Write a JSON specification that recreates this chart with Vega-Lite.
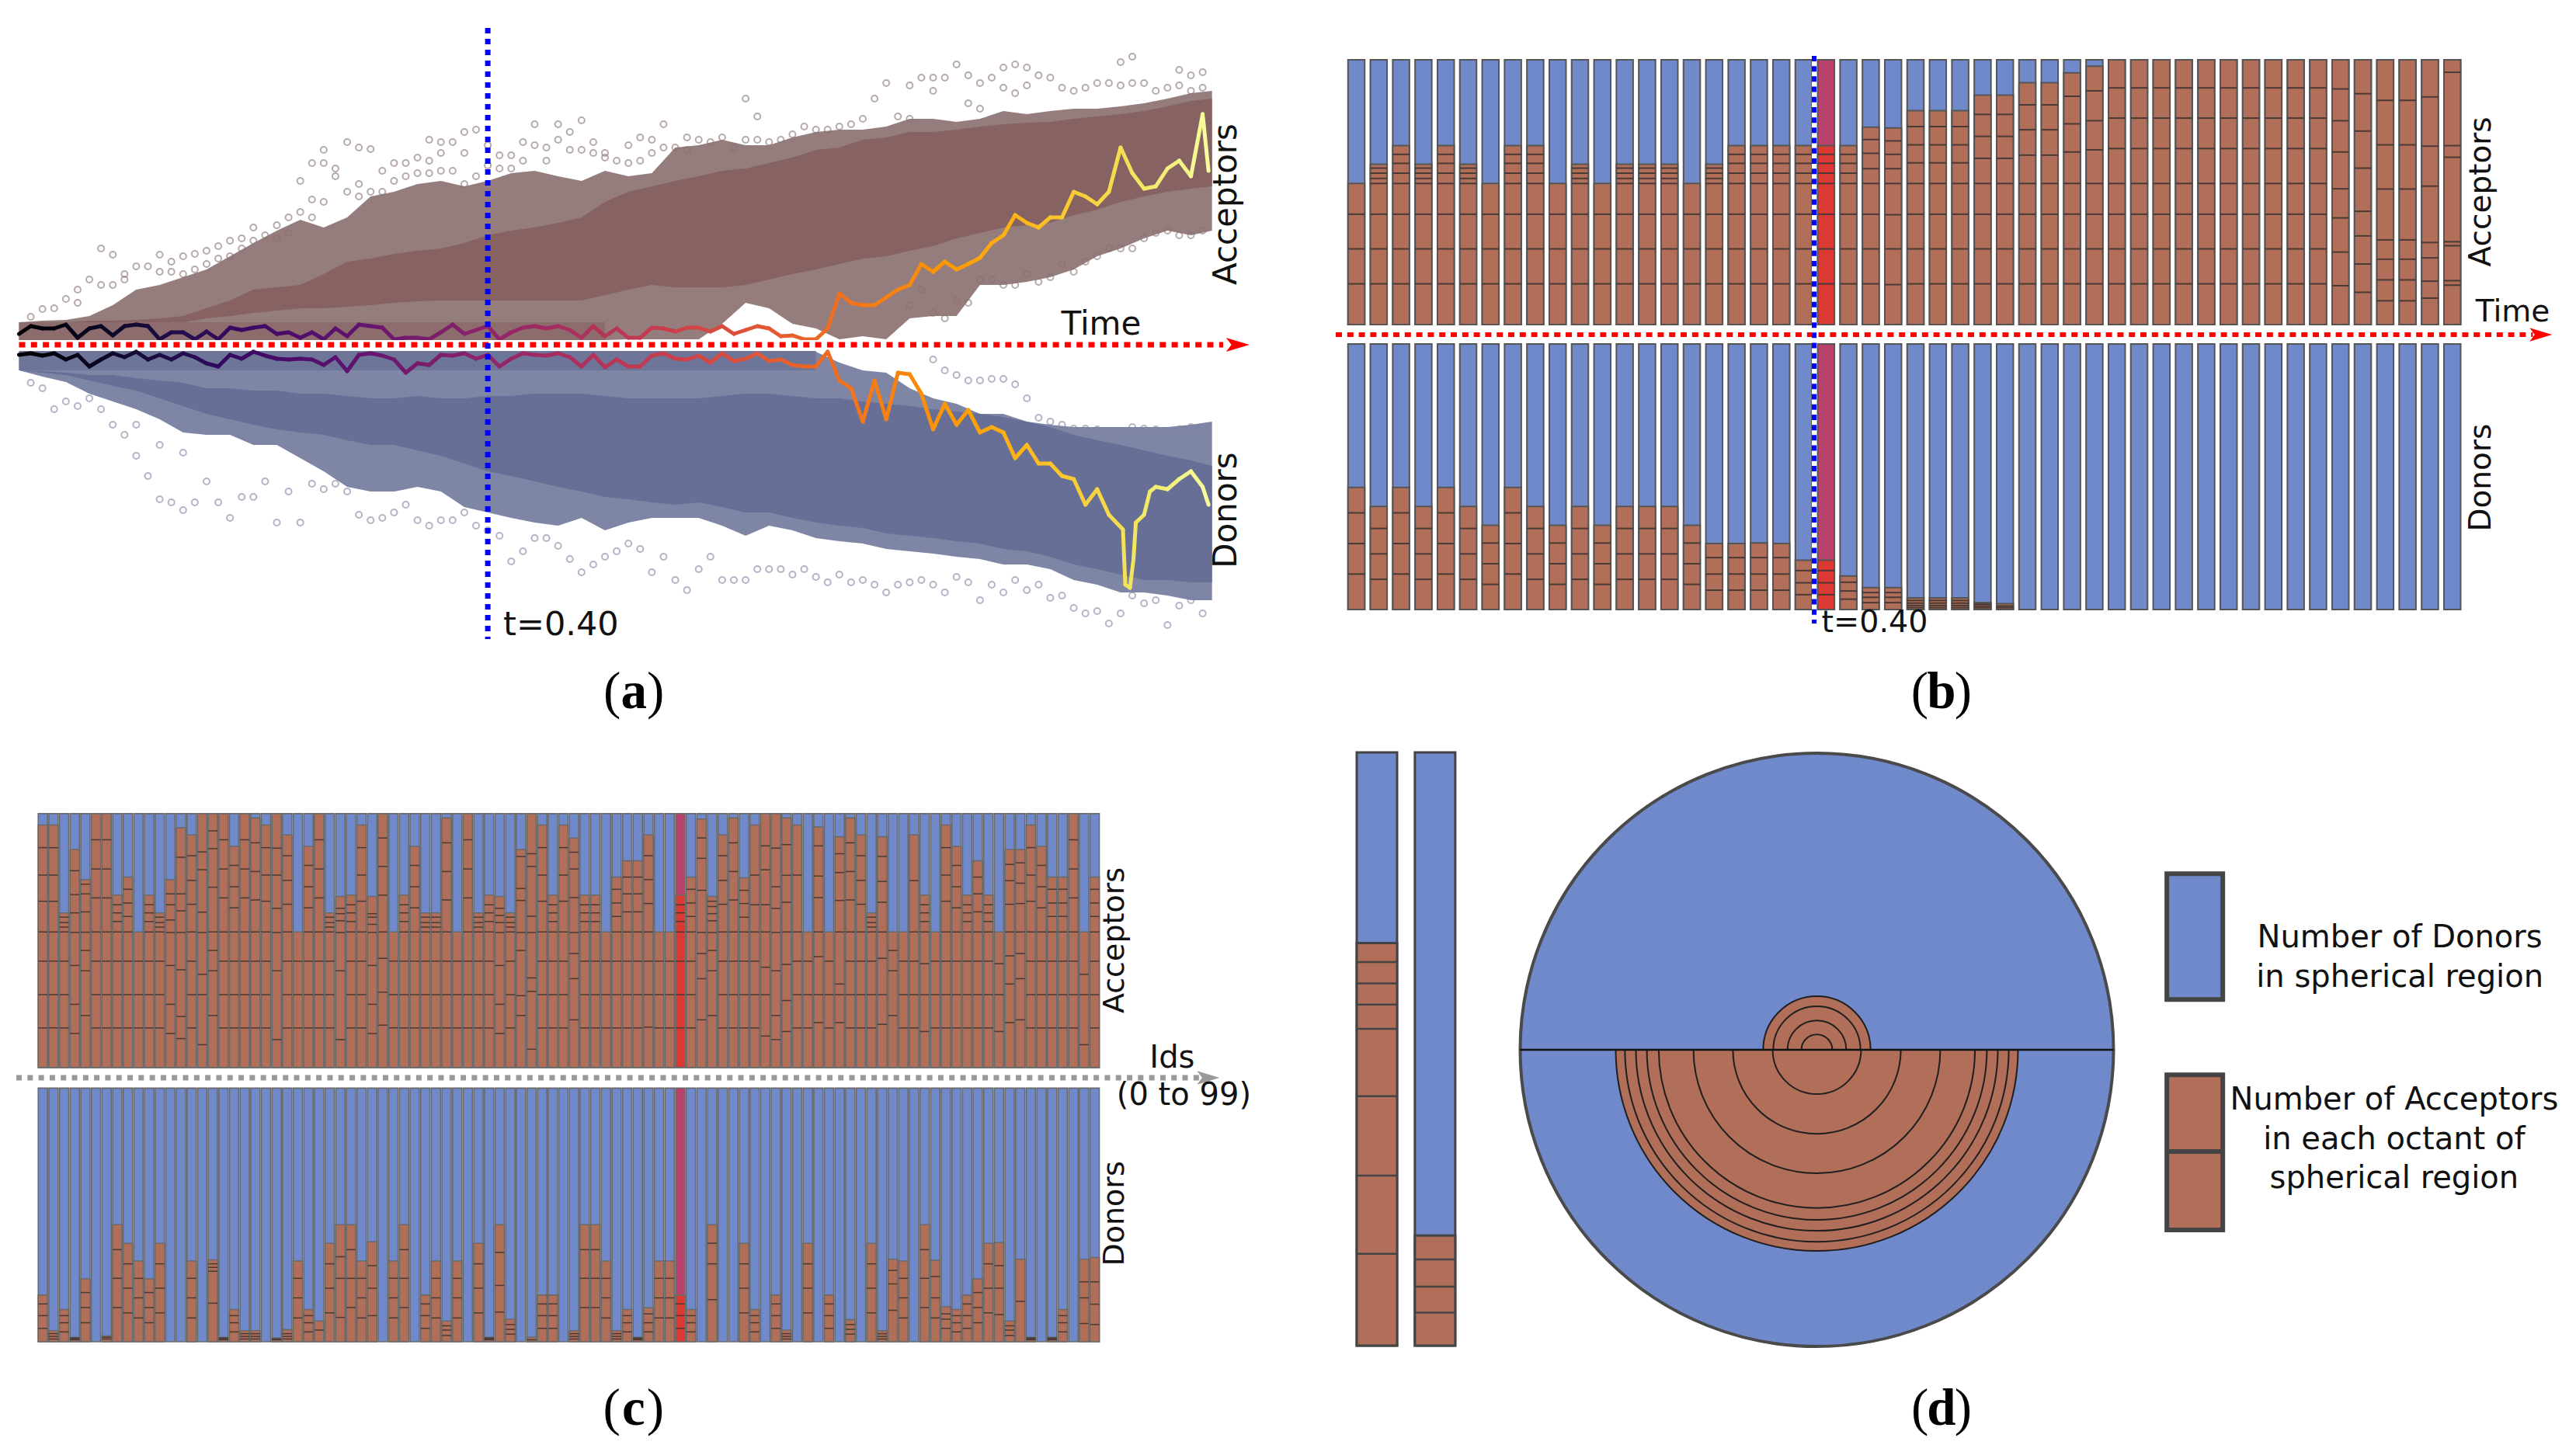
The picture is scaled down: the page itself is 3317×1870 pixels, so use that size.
{"$schema":"https://vega.github.io/schema/vega-lite/v6.json","padding":0,"background":"white","spacing":0,"config":{"view":{"stroke":null},"concat":{"spacing":0}},
"datasets":{
"env":[
{"g":"A","t":0,"mu":2.9,"ml":0.6,"cu":2.9,"cl":2.9},{"g":"A","t":0.02,"mu":3.1,"ml":0.6,"cu":2.9,"cl":2.9},{"g":"A","t":0.04,"mu":3.2,"ml":0.6,"cu":2.9,"cl":2.9},{"g":"A","t":0.06,"mu":3.7,"ml":0.6,"cu":3.1,"cl":2.9},{"g":"A","t":0.08,"mu":5.1,"ml":0.6,"cu":3.1,"cl":2.9},{"g":"A","t":0.1,"mu":7.1,"ml":0.6,"cu":3.2,"cl":2.9},{"g":"A","t":0.12,"mu":7.7,"ml":0.6,"cu":3.4,"cl":2.9},{"g":"A","t":0.14,"mu":8.7,"ml":0.6,"cu":3.7,"cl":2.9},{"g":"A","t":0.16,"mu":9.7,"ml":0.6,"cu":4.7,"cl":3.4},{"g":"A","t":0.18,"mu":11.4,"ml":0.6,"cu":5.7,"cl":3.7},{"g":"A","t":0.2,"mu":13.1,"ml":0.6,"cu":7.1,"cl":4.1},{"g":"A","t":0.22,"mu":14.7,"ml":0.6,"cu":7.4,"cl":4.4},{"g":"A","t":0.24,"mu":16.1,"ml":0.6,"cu":7.7,"cl":4.7},{"g":"A","t":0.26,"mu":15.1,"ml":0.6,"cu":9.1,"cl":4.7},{"g":"A","t":0.28,"mu":16.4,"ml":0.6,"cu":10.7,"cl":4.9},{"g":"A","t":0.3,"mu":19.1,"ml":0.6,"cu":11.1,"cl":5.1},{"g":"A","t":0.32,"mu":19.7,"ml":0.6,"cu":11.7,"cl":5.4},{"g":"A","t":0.34,"mu":20.7,"ml":0.6,"cu":12.1,"cl":5.6},{"g":"A","t":0.36,"mu":21.1,"ml":0.6,"cu":12.4,"cl":5.7},{"g":"A","t":0.38,"mu":20.4,"ml":0.6,"cu":13.1,"cl":5.7},{"g":"A","t":0.4,"mu":21.1,"ml":0.6,"cu":14.1,"cl":5.7},{"g":"A","t":0.42,"mu":22.1,"ml":0.6,"cu":14.7,"cl":5.7},{"g":"A","t":0.44,"mu":22.4,"ml":0.6,"cu":15.1,"cl":5.7},{"g":"A","t":0.46,"mu":21.7,"ml":0.6,"cu":15.7,"cl":5.7},{"g":"A","t":0.48,"mu":21.1,"ml":0.6,"cu":16.4,"cl":5.7},{"g":"A","t":0.5,"mu":22.4,"ml":0.6,"cu":18.4,"cl":6.4},{"g":"A","t":0.52,"mu":21.7,"ml":0.7,"cu":19.7,"cl":7.1},{"g":"A","t":0.54,"mu":22.1,"ml":0.7,"cu":20.4,"cl":7.7},{"g":"A","t":0.56,"mu":25.4,"ml":0.7,"cu":21.1,"cl":7.4},{"g":"A","t":0.58,"mu":25.7,"ml":0.7,"cu":21.7,"cl":7.4},{"g":"A","t":0.6,"mu":26.4,"ml":2.7,"cu":22.4,"cl":7.4},{"g":"A","t":0.62,"mu":25.7,"ml":5.4,"cu":22.7,"cl":7.7},{"g":"A","t":0.64,"mu":25.7,"ml":4.7,"cu":23.4,"cl":8.4},{"g":"A","t":0.66,"mu":26.7,"ml":2.7,"cu":24.1,"cl":9.1},{"g":"A","t":0.68,"mu":27.4,"ml":2.1,"cu":25.1,"cl":9.7},{"g":"A","t":0.7,"mu":27.7,"ml":0.7,"cu":25.4,"cl":10.4},{"g":"A","t":0.72,"mu":27.7,"ml":1.1,"cu":26.4,"cl":11.1},{"g":"A","t":0.74,"mu":28.1,"ml":0.7,"cu":26.7,"cl":11.4},{"g":"A","t":0.76,"mu":29.1,"ml":3.4,"cu":27.4,"cl":12.1},{"g":"A","t":0.78,"mu":29.1,"ml":3.7,"cu":27.4,"cl":12.7},{"g":"A","t":0.8,"mu":28.7,"ml":3.7,"cu":27.7,"cl":13.7},{"g":"A","t":0.82,"mu":29.1,"ml":7.7,"cu":28.1,"cl":14.4},{"g":"A","t":0.84,"mu":30.1,"ml":7.7,"cu":28.4,"cl":15.1},{"g":"A","t":0.86,"mu":29.7,"ml":8.1,"cu":28.6,"cl":15.4},{"g":"A","t":0.88,"mu":30.1,"ml":8.7,"cu":28.7,"cl":15.7},{"g":"A","t":0.9,"mu":30.4,"ml":9.7,"cu":29.1,"cl":16.7},{"g":"A","t":0.92,"mu":30.4,"ml":11.4,"cu":29.4,"cl":17.4},{"g":"A","t":0.94,"mu":30.7,"ml":12.4,"cu":29.7,"cl":18.4},{"g":"A","t":0.96,"mu":31.1,"ml":13.7,"cu":30.1,"cl":19.1},{"g":"A","t":0.98,"mu":31.7,"ml":14.7,"cu":30.7,"cl":19.7},{"g":"A","t":1,"mu":32.4,"ml":14.1,"cu":31.4,"cl":20.1},{"g":"A","t":1.018,"mu":32.7,"ml":14.7,"cu":31.7,"cl":20.4},
{"g":"D","t":0,"mu":-0.9,"ml":-3.3,"cu":-3.3,"cl":-3.3},{"g":"D","t":0.02,"mu":-0.9,"ml":-4.1,"cu":-3.4,"cl":-3.6},{"g":"D","t":0.04,"mu":-0.9,"ml":-4.8,"cu":-3.6,"cl":-3.9},{"g":"D","t":0.06,"mu":-0.9,"ml":-6.3,"cu":-3.9,"cl":-4.6},{"g":"D","t":0.08,"mu":-0.9,"ml":-7.3,"cu":-3.9,"cl":-5.3},{"g":"D","t":0.1,"mu":-0.9,"ml":-8.3,"cu":-4.3,"cl":-5.9},{"g":"D","t":0.12,"mu":-0.9,"ml":-9.6,"cu":-4.6,"cl":-6.9},{"g":"D","t":0.14,"mu":-0.9,"ml":-11.3,"cu":-4.9,"cl":-7.9},{"g":"D","t":0.16,"mu":-0.9,"ml":-11.6,"cu":-5.6,"cl":-8.9},{"g":"D","t":0.18,"mu":-0.9,"ml":-11.6,"cu":-5.6,"cl":-9.6},{"g":"D","t":0.2,"mu":-0.9,"ml":-12.9,"cu":-5.9,"cl":-10.3},{"g":"D","t":0.22,"mu":-0.9,"ml":-12.9,"cu":-5.9,"cl":-10.9},{"g":"D","t":0.24,"mu":-0.9,"ml":-14.6,"cu":-6.3,"cl":-11.3},{"g":"D","t":0.26,"mu":-0.9,"ml":-16.3,"cu":-6.3,"cl":-11.6},{"g":"D","t":0.28,"mu":-0.9,"ml":-18.3,"cu":-6.6,"cl":-12.3},{"g":"D","t":0.3,"mu":-0.9,"ml":-18.9,"cu":-6.9,"cl":-12.9},{"g":"D","t":0.32,"mu":-0.9,"ml":-18.9,"cu":-6.9,"cl":-12.9},{"g":"D","t":0.34,"mu":-0.9,"ml":-18.3,"cu":-6.6,"cl":-13.6},{"g":"D","t":0.36,"mu":-0.9,"ml":-18.9,"cu":-6.9,"cl":-14.3},{"g":"D","t":0.38,"mu":-0.9,"ml":-20.9,"cu":-6.9,"cl":-15.3},{"g":"D","t":0.4,"mu":-0.9,"ml":-21.6,"cu":-6.6,"cl":-16.3},{"g":"D","t":0.42,"mu":-0.9,"ml":-22.3,"cu":-6.6,"cl":-16.9},{"g":"D","t":0.44,"mu":-0.9,"ml":-22.9,"cu":-6.3,"cl":-17.6},{"g":"D","t":0.46,"mu":-0.9,"ml":-23.3,"cu":-6.3,"cl":-18.3},{"g":"D","t":0.48,"mu":-0.9,"ml":-22.3,"cu":-6.3,"cl":-18.9},{"g":"D","t":0.5,"mu":-0.9,"ml":-23.9,"cu":-6.6,"cl":-19.6},{"g":"D","t":0.52,"mu":-0.9,"ml":-22.9,"cu":-6.9,"cl":-19.9},{"g":"D","t":0.54,"mu":-0.9,"ml":-22.3,"cu":-6.9,"cl":-20.3},{"g":"D","t":0.56,"mu":-0.9,"ml":-22.3,"cu":-6.9,"cl":-20.6},{"g":"D","t":0.58,"mu":-0.9,"ml":-22.3,"cu":-6.9,"cl":-20.3},{"g":"D","t":0.6,"mu":-0.9,"ml":-23.3,"cu":-6.6,"cl":-20.9},{"g":"D","t":0.62,"mu":-0.9,"ml":-24.6,"cu":-6.3,"cl":-21.6},{"g":"D","t":0.64,"mu":-0.9,"ml":-23.3,"cu":-6.3,"cl":-21.6},{"g":"D","t":0.66,"mu":-0.9,"ml":-23.9,"cu":-6.6,"cl":-22.3},{"g":"D","t":0.68,"mu":-0.9,"ml":-24.9,"cu":-6.9,"cl":-22.9},{"g":"D","t":0.7,"mu":-2.3,"ml":-25.3,"cu":-6.9,"cl":-23.3},{"g":"D","t":0.72,"mu":-3.3,"ml":-25.6,"cu":-7.3,"cl":-23.6},{"g":"D","t":0.74,"mu":-3.6,"ml":-26.3,"cu":-7.6,"cl":-24.3},{"g":"D","t":0.76,"mu":-5.6,"ml":-26.6,"cu":-7.9,"cl":-24.6},{"g":"D","t":0.78,"mu":-6.9,"ml":-26.9,"cu":-8.3,"cl":-24.9},{"g":"D","t":0.8,"mu":-7.6,"ml":-27.3,"cu":-8.6,"cl":-25.3},{"g":"D","t":0.82,"mu":-8.9,"ml":-27.6,"cu":-8.9,"cl":-25.6},{"g":"D","t":0.84,"mu":-8.9,"ml":-28.3,"cu":-9.3,"cl":-26.3},{"g":"D","t":0.86,"mu":-9.9,"ml":-28.3,"cu":-9.9,"cl":-26.6},{"g":"D","t":0.88,"mu":-10.3,"ml":-28.9,"cu":-10.6,"cl":-27.3},{"g":"D","t":0.9,"mu":-10.6,"ml":-30.3,"cu":-11.6,"cl":-28.3},{"g":"D","t":0.92,"mu":-10.6,"ml":-30.9,"cu":-12.3,"cl":-28.9},{"g":"D","t":0.94,"mu":-10.6,"ml":-31.9,"cu":-12.9,"cl":-29.6},{"g":"D","t":0.96,"mu":-10.6,"ml":-31.9,"cu":-13.6,"cl":-30.3},{"g":"D","t":0.98,"mu":-10.6,"ml":-32.3,"cu":-14.3,"cl":-30.3},{"g":"D","t":1,"mu":-10.3,"ml":-32.9,"cu":-14.9,"cl":-30.6},{"g":"D","t":1.018,"mu":-9.9,"ml":-32.9,"cu":-15.6,"cl":-30.6}
],
"aPts":[
{"g":"A","t":0.01,"r":[3.6]},{"g":"A","t":0.02,"r":[4.6]},{"g":"A","t":0.03,"r":[4.7]},{"g":"A","t":0.04,"r":[5.9]},{"g":"A","t":0.05,"r":[7.1,5.4]},{"g":"A","t":0.06,"r":[8.4]},{"g":"A","t":0.07,"r":[12.4,7.7]},{"g":"A","t":0.08,"r":[11.6,7.7]},{"g":"A","t":0.09,"r":[8.4,9.1]},{"g":"A","t":0.1,"r":[10.1]},{"g":"A","t":0.11,"r":[10.1]},{"g":"A","t":0.12,"r":[11.6,9.4]},{"g":"A","t":0.13,"r":[10.7,9.4]},{"g":"A","t":0.14,"r":[11.4,9.1]},{"g":"A","t":0.15,"r":[11.7,9.7]},{"g":"A","t":0.16,"r":[12.1,10.4]},{"g":"A","t":0.17,"r":[12.7,11.1]},{"g":"A","t":0.18,"r":[13.4,11.4]},{"g":"A","t":0.19,"r":[13.7,12.4]},{"g":"A","t":0.2,"r":[15.1,13.4]},{"g":"A","t":0.21,"r":[14.1]},{"g":"A","t":0.22,"r":[15.4,13.7]},{"g":"A","t":0.23,"r":[16.4,14.4]},{"g":"A","t":0.24,"r":[21.1,17.1]},{"g":"A","t":0.25,"r":[23.4,18.7,16.4]},{"g":"A","t":0.26,"r":[25.1,23.4,18.4]},{"g":"A","t":0.27,"r":[21.7,22.7]},{"g":"A","t":0.28,"r":[26.1,19.7]},{"g":"A","t":0.29,"r":[25.4,20.7,19.1]},{"g":"A","t":0.3,"r":[25.2,19.7]},{"g":"A","t":0.31,"r":[22.4,19.7]},{"g":"A","t":0.32,"r":[23.4,21.1]},{"g":"A","t":0.33,"r":[23.4,21.7]},{"g":"A","t":0.34,"r":[24.1,22.1]},{"g":"A","t":0.35,"r":[26.4,23.7,22.1]},{"g":"A","t":0.36,"r":[26.1,24.7,22.4]},{"g":"A","t":0.37,"r":[26.1,22.4]},{"g":"A","t":0.38,"r":[27.4,24.7,20.7]},{"g":"A","t":0.39,"r":[27.7,21.7]},{"g":"A","t":0.4,"r":[25.7,23.1]},{"g":"A","t":0.41,"r":[24.4,22.7]},{"g":"A","t":0.42,"r":[24.4,22.7]},{"g":"A","t":0.43,"r":[26.1,23.7]},{"g":"A","t":0.44,"r":[28.4,25.7]},{"g":"A","t":0.45,"r":[25.4,23.7]},{"g":"A","t":0.46,"r":[28.4,26.4]},{"g":"A","t":0.47,"r":[27.4,25.1]},{"g":"A","t":0.48,"r":[28.9,25.1]},{"g":"A","t":0.49,"r":[26.1,24.7]},{"g":"A","t":0.5,"r":[24.7,24.1]},{"g":"A","t":0.51,"r":[23.7]},{"g":"A","t":0.52,"r":[25.7,23.4]},{"g":"A","t":0.53,"r":[26.7,23.7]},{"g":"A","t":0.54,"r":[26.4,24.7]},{"g":"A","t":0.55,"r":[28.4,25.4]},{"g":"A","t":0.56,"r":[25.4]},{"g":"A","t":0.57,"r":[26.7,25.1]},{"g":"A","t":0.58,"r":[26.4]},{"g":"A","t":0.59,"r":[26.1]},{"g":"A","t":0.6,"r":[26.7]},{"g":"A","t":0.61,"r":[25.4]},{"g":"A","t":0.62,"r":[31.7,26.4]},{"g":"A","t":0.63,"r":[29.4,26.4]},{"g":"A","t":0.64,"r":[26.1]},{"g":"A","t":0.65,"r":[26.4]},{"g":"A","t":0.66,"r":[27.1]},{"g":"A","t":0.67,"r":[28.1]},{"g":"A","t":0.68,"r":[27.7]},{"g":"A","t":0.69,"r":[27.7]},{"g":"A","t":0.7,"r":[28.1]},{"g":"A","t":0.71,"r":[28.4]},{"g":"A","t":0.72,"r":[29.1]},{"g":"A","t":0.73,"r":[31.7]},{"g":"A","t":0.74,"r":[33.7]},{"g":"A","t":0.75,"r":[29.4]},{"g":"A","t":0.76,"r":[33.4,29.1,5.1]},{"g":"A","t":0.77,"r":[34.4,7.1]},{"g":"A","t":0.78,"r":[34.4,32.7,4.1]},{"g":"A","t":0.79,"r":[34.4,3.4]},{"g":"A","t":0.8,"r":[36.1,5.7]},{"g":"A","t":0.81,"r":[34.7,31.1,5.4]},{"g":"A","t":0.82,"r":[33.7,30.4,8.4]},{"g":"A","t":0.83,"r":[34.4,8.4]},{"g":"A","t":0.84,"r":[35.7,33.1,7.7]},{"g":"A","t":0.85,"r":[36.1,32.4,7.7]},{"g":"A","t":0.86,"r":[35.7,33.4,9.1]},{"g":"A","t":0.87,"r":[34.7,8.1]},{"g":"A","t":0.88,"r":[34.4,8.7]},{"g":"A","t":0.89,"r":[33.1,10.4]},{"g":"A","t":0.9,"r":[32.7,9.4]},{"g":"A","t":0.91,"r":[33.1,10.7]},{"g":"A","t":0.92,"r":[33.7,11.4]},{"g":"A","t":0.93,"r":[33.7,12.4]},{"g":"A","t":0.94,"r":[36.4,33.4,12.4]},{"g":"A","t":0.95,"r":[37.1,33.7,12.4]},{"g":"A","t":0.96,"r":[33.7,13.7]},{"g":"A","t":0.97,"r":[32.7,14.4]},{"g":"A","t":0.98,"r":[33.1,14.7]},{"g":"A","t":0.99,"r":[35.4,33.4,14.1]},{"g":"A","t":1,"r":[34.7,32.7,14.1]},{"g":"A","t":1.01,"r":[35.1,33.1,14.7]},
{"g":"D","t":0.01,"r":[-4.9]},{"g":"D","t":0.02,"r":[-5.6]},{"g":"D","t":0.03,"r":[-8.3]},{"g":"D","t":0.04,"r":[-7.3]},{"g":"D","t":0.05,"r":[-7.9]},{"g":"D","t":0.06,"r":[-6.9]},{"g":"D","t":0.07,"r":[-8.3]},{"g":"D","t":0.08,"r":[-10.3]},{"g":"D","t":0.09,"r":[-11.6]},{"g":"D","t":0.1,"r":[-14.3,-10.3]},{"g":"D","t":0.11,"r":[-16.9]},{"g":"D","t":0.12,"r":[-19.9,-12.9]},{"g":"D","t":0.13,"r":[-20.3]},{"g":"D","t":0.14,"r":[-21.3,-13.9]},{"g":"D","t":0.15,"r":[-20.3]},{"g":"D","t":0.16,"r":[-17.6]},{"g":"D","t":0.17,"r":[-20.3]},{"g":"D","t":0.18,"r":[-22.3]},{"g":"D","t":0.19,"r":[-19.6]},{"g":"D","t":0.2,"r":[-19.6]},{"g":"D","t":0.21,"r":[-17.6]},{"g":"D","t":0.22,"r":[-22.9]},{"g":"D","t":0.23,"r":[-18.9]},{"g":"D","t":0.24,"r":[-22.9]},{"g":"D","t":0.25,"r":[-17.9]},{"g":"D","t":0.26,"r":[-18.6]},{"g":"D","t":0.27,"r":[-17.9]},{"g":"D","t":0.28,"r":[-18.9]},{"g":"D","t":0.29,"r":[-21.9]},{"g":"D","t":0.3,"r":[-22.6]},{"g":"D","t":0.31,"r":[-22.3]},{"g":"D","t":0.32,"r":[-21.6]},{"g":"D","t":0.33,"r":[-20.6]},{"g":"D","t":0.34,"r":[-22.6]},{"g":"D","t":0.35,"r":[-23.3]},{"g":"D","t":0.36,"r":[-22.6]},{"g":"D","t":0.37,"r":[-22.6]},{"g":"D","t":0.38,"r":[-21.6]},{"g":"D","t":0.39,"r":[-23.3]},{"g":"D","t":0.4,"r":[-23.9]},{"g":"D","t":0.41,"r":[-24.6]},{"g":"D","t":0.42,"r":[-27.9]},{"g":"D","t":0.43,"r":[-26.6]},{"g":"D","t":0.44,"r":[-24.9]},{"g":"D","t":0.45,"r":[-24.9]},{"g":"D","t":0.46,"r":[-25.9]},{"g":"D","t":0.47,"r":[-27.6]},{"g":"D","t":0.48,"r":[-29.3]},{"g":"D","t":0.49,"r":[-28.3]},{"g":"D","t":0.5,"r":[-27.3]},{"g":"D","t":0.51,"r":[-26.6]},{"g":"D","t":0.52,"r":[-25.6]},{"g":"D","t":0.53,"r":[-26.3]},{"g":"D","t":0.54,"r":[-29.3]},{"g":"D","t":0.55,"r":[-27.3]},{"g":"D","t":0.56,"r":[-30.3]},{"g":"D","t":0.57,"r":[-31.6]},{"g":"D","t":0.58,"r":[-28.9]},{"g":"D","t":0.59,"r":[-27.3]},{"g":"D","t":0.6,"r":[-30.3]},{"g":"D","t":0.61,"r":[-30.3]},{"g":"D","t":0.62,"r":[-30.3]},{"g":"D","t":0.63,"r":[-28.9]},{"g":"D","t":0.64,"r":[-28.9]},{"g":"D","t":0.65,"r":[-28.9]},{"g":"D","t":0.66,"r":[-29.6]},{"g":"D","t":0.67,"r":[-28.9]},{"g":"D","t":0.68,"r":[-29.9]},{"g":"D","t":0.69,"r":[-30.6]},{"g":"D","t":0.7,"r":[-29.6]},{"g":"D","t":0.71,"r":[-30.6]},{"g":"D","t":0.72,"r":[-30.3]},{"g":"D","t":0.73,"r":[-30.9]},{"g":"D","t":0.74,"r":[-31.9]},{"g":"D","t":0.75,"r":[-30.9]},{"g":"D","t":0.76,"r":[-30.6]},{"g":"D","t":0.77,"r":[-30.3]},{"g":"D","t":0.78,"r":[-30.9,-1.9]},{"g":"D","t":0.79,"r":[-31.9,-3.3]},{"g":"D","t":0.8,"r":[-29.9,-3.9]},{"g":"D","t":0.81,"r":[-30.6,-4.6]},{"g":"D","t":0.82,"r":[-32.9,-4.6]},{"g":"D","t":0.83,"r":[-30.9,-4.4]},{"g":"D","t":0.84,"r":[-31.9,-4.4]},{"g":"D","t":0.85,"r":[-30.3,-5.1]},{"g":"D","t":0.86,"r":[-31.6,-6.9]},{"g":"D","t":0.87,"r":[-30.9,-9.4]},{"g":"D","t":0.88,"r":[-32.6,-9.9]},{"g":"D","t":0.89,"r":[-32.3,-10.3]},{"g":"D","t":0.9,"r":[-33.9,-10.8]},{"g":"D","t":0.91,"r":[-34.6,-10.8]},{"g":"D","t":0.92,"r":[-34.3,-10.9]},{"g":"D","t":0.93,"r":[-35.9,-11.6]},{"g":"D","t":0.94,"r":[-34.6,-11.3]},{"g":"D","t":0.95,"r":[-32.3,-10.6]},{"g":"D","t":0.96,"r":[-33.3,-10.8]},{"g":"D","t":0.97,"r":[-32.9,-10.9]},{"g":"D","t":0.98,"r":[-36.1,-11.3]},{"g":"D","t":0.99,"r":[-33.6,-10.9]},{"g":"D","t":1,"r":[-32.9,-10.6]},{"g":"D","t":1.01,"r":[-34.6,-10.6]}
],
"traj":[
{"g":"A","t":0,"v":1.4},{"g":"A","t":0.01,"v":2.4},{"g":"A","t":0.02,"v":2.1},{"g":"A","t":0.03,"v":2.1},{"g":"A","t":0.04,"v":2.6},{"g":"A","t":0.05,"v":0.9},{"g":"A","t":0.06,"v":2.1},{"g":"A","t":0.07,"v":2.4},{"g":"A","t":0.08,"v":1.2},{"g":"A","t":0.09,"v":2.4},{"g":"A","t":0.1,"v":2.6},{"g":"A","t":0.11,"v":2.4},{"g":"A","t":0.12,"v":0.7},{"g":"A","t":0.13,"v":1.6},{"g":"A","t":0.14,"v":1.6},{"g":"A","t":0.15,"v":0.7},{"g":"A","t":0.16,"v":1.7},{"g":"A","t":0.17,"v":0.7},{"g":"A","t":0.18,"v":2.2},{"g":"A","t":0.19,"v":1.9},{"g":"A","t":0.2,"v":2.2},{"g":"A","t":0.21,"v":2.4},{"g":"A","t":0.22,"v":1.4},{"g":"A","t":0.23,"v":1.6},{"g":"A","t":0.24,"v":0.9},{"g":"A","t":0.25,"v":1.6},{"g":"A","t":0.26,"v":0.7},{"g":"A","t":0.27,"v":2.1},{"g":"A","t":0.28,"v":1.1},{"g":"A","t":0.29,"v":2.6},{"g":"A","t":0.3,"v":2.4},{"g":"A","t":0.31,"v":2.2},{"g":"A","t":0.32,"v":0.7},{"g":"A","t":0.33,"v":0.9},{"g":"A","t":0.34,"v":0.9},{"g":"A","t":0.35,"v":0.7},{"g":"A","t":0.36,"v":1.6},{"g":"A","t":0.37,"v":2.6},{"g":"A","t":0.38,"v":1.4},{"g":"A","t":0.39,"v":1.9},{"g":"A","t":0.4,"v":2.4},{"g":"A","t":0.41,"v":0.7},{"g":"A","t":0.42,"v":1.6},{"g":"A","t":0.43,"v":2.2},{"g":"A","t":0.44,"v":2.4},{"g":"A","t":0.45,"v":2.1},{"g":"A","t":0.46,"v":2.4},{"g":"A","t":0.47,"v":1.9},{"g":"A","t":0.48,"v":0.9},{"g":"A","t":0.49,"v":2.4},{"g":"A","t":0.5,"v":1.1},{"g":"A","t":0.51,"v":2.1},{"g":"A","t":0.52,"v":0.9},{"g":"A","t":0.53,"v":0.9},{"g":"A","t":0.54,"v":2.2},{"g":"A","t":0.55,"v":2.1},{"g":"A","t":0.56,"v":1.7},{"g":"A","t":0.57,"v":2.2},{"g":"A","t":0.58,"v":2.2},{"g":"A","t":0.59,"v":1.7},{"g":"A","t":0.6,"v":2.4},{"g":"A","t":0.61,"v":1.4},{"g":"A","t":0.62,"v":1.9},{"g":"A","t":0.63,"v":2.4},{"g":"A","t":0.64,"v":2.1},{"g":"A","t":0.65,"v":1.1},{"g":"A","t":0.66,"v":1.2},{"g":"A","t":0.67,"v":0.7},{"g":"A","t":0.68,"v":0.7},{"g":"A","t":0.69,"v":2.1},{"g":"A","t":0.7,"v":6.6},{"g":"A","t":0.71,"v":5.4},{"g":"A","t":0.72,"v":5.1},{"g":"A","t":0.73,"v":5.1},{"g":"A","t":0.74,"v":6.1},{"g":"A","t":0.75,"v":7.1},{"g":"A","t":0.76,"v":7.7},{"g":"A","t":0.77,"v":10.4},{"g":"A","t":0.78,"v":9.4},{"g":"A","t":0.79,"v":10.7},{"g":"A","t":0.8,"v":9.7},{"g":"A","t":0.81,"v":10.4},{"g":"A","t":0.82,"v":11.2},{"g":"A","t":0.83,"v":13.1},{"g":"A","t":0.84,"v":14.1},{"g":"A","t":0.85,"v":16.7},{"g":"A","t":0.86,"v":15.7},{"g":"A","t":0.87,"v":15.1},{"g":"A","t":0.88,"v":16.4},{"g":"A","t":0.89,"v":16.4},{"g":"A","t":0.9,"v":19.7},{"g":"A","t":0.91,"v":19.1},{"g":"A","t":0.92,"v":18.1},{"g":"A","t":0.93,"v":19.7},{"g":"A","t":0.94,"v":25.4},{"g":"A","t":0.95,"v":22.1},{"g":"A","t":0.96,"v":20.1},{"g":"A","t":0.97,"v":20.4},{"g":"A","t":0.98,"v":22.7},{"g":"A","t":0.99,"v":23.7},{"g":"A","t":1,"v":21.7},{"g":"A","t":1.01,"v":29.7},{"g":"A","t":1.015,"v":22.4},
{"g":"D","t":0,"v":-1.3},{"g":"D","t":0.01,"v":-1.1},{"g":"D","t":0.02,"v":-1.4},{"g":"D","t":0.03,"v":-1.1},{"g":"D","t":0.04,"v":-1.9},{"g":"D","t":0.05,"v":-1.3},{"g":"D","t":0.06,"v":-2.8},{"g":"D","t":0.07,"v":-1.9},{"g":"D","t":0.08,"v":-1.1},{"g":"D","t":0.09,"v":-1.6},{"g":"D","t":0.1,"v":-0.9},{"g":"D","t":0.11,"v":-1.9},{"g":"D","t":0.12,"v":-1.3},{"g":"D","t":0.13,"v":-1.9},{"g":"D","t":0.14,"v":-1.1},{"g":"D","t":0.15,"v":-1.6},{"g":"D","t":0.16,"v":-2.4},{"g":"D","t":0.17,"v":-2.8},{"g":"D","t":0.18,"v":-1.3},{"g":"D","t":0.19,"v":-1.8},{"g":"D","t":0.2,"v":-0.9},{"g":"D","t":0.21,"v":-1.4},{"g":"D","t":0.22,"v":-1.8},{"g":"D","t":0.23,"v":-1.9},{"g":"D","t":0.24,"v":-1.8},{"g":"D","t":0.25,"v":-1.9},{"g":"D","t":0.26,"v":-2.6},{"g":"D","t":0.27,"v":-1.6},{"g":"D","t":0.28,"v":-3.4},{"g":"D","t":0.29,"v":-1.3},{"g":"D","t":0.3,"v":-1.1},{"g":"D","t":0.31,"v":-1.4},{"g":"D","t":0.32,"v":-1.9},{"g":"D","t":0.33,"v":-3.6},{"g":"D","t":0.34,"v":-2.4},{"g":"D","t":0.35,"v":-2.6},{"g":"D","t":0.36,"v":-1.3},{"g":"D","t":0.37,"v":-1.4},{"g":"D","t":0.38,"v":-1.1},{"g":"D","t":0.39,"v":-1.8},{"g":"D","t":0.4,"v":-1.3},{"g":"D","t":0.41,"v":-2.8},{"g":"D","t":0.42,"v":-1.8},{"g":"D","t":0.43,"v":-1.1},{"g":"D","t":0.44,"v":-1.3},{"g":"D","t":0.45,"v":-1.4},{"g":"D","t":0.46,"v":-1.1},{"g":"D","t":0.47,"v":-1.6},{"g":"D","t":0.48,"v":-2.8},{"g":"D","t":0.49,"v":-1.3},{"g":"D","t":0.5,"v":-2.9},{"g":"D","t":0.51,"v":-1.9},{"g":"D","t":0.52,"v":-2.8},{"g":"D","t":0.53,"v":-2.8},{"g":"D","t":0.54,"v":-1.4},{"g":"D","t":0.55,"v":-1.1},{"g":"D","t":0.56,"v":-1.8},{"g":"D","t":0.57,"v":-1.9},{"g":"D","t":0.58,"v":-1.4},{"g":"D","t":0.59,"v":-2.3},{"g":"D","t":0.6,"v":-1.1},{"g":"D","t":0.61,"v":-2.1},{"g":"D","t":0.62,"v":-1.8},{"g":"D","t":0.63,"v":-1.1},{"g":"D","t":0.64,"v":-2.1},{"g":"D","t":0.65,"v":-1.9},{"g":"D","t":0.66,"v":-2.6},{"g":"D","t":0.67,"v":-2.8},{"g":"D","t":0.68,"v":-2.8},{"g":"D","t":0.69,"v":-0.9},{"g":"D","t":0.7,"v":-4.6},{"g":"D","t":0.71,"v":-5.6},{"g":"D","t":0.72,"v":-9.9},{"g":"D","t":0.73,"v":-4.6},{"g":"D","t":0.74,"v":-9.6},{"g":"D","t":0.75,"v":-3.6},{"g":"D","t":0.76,"v":-3.8},{"g":"D","t":0.77,"v":-6.3},{"g":"D","t":0.78,"v":-10.9},{"g":"D","t":0.79,"v":-7.6},{"g":"D","t":0.8,"v":-10.3},{"g":"D","t":0.81,"v":-8.4},{"g":"D","t":0.82,"v":-11.3},{"g":"D","t":0.83,"v":-10.6},{"g":"D","t":0.84,"v":-11.3},{"g":"D","t":0.85,"v":-14.6},{"g":"D","t":0.86,"v":-12.9},{"g":"D","t":0.87,"v":-15.3},{"g":"D","t":0.88,"v":-15.3},{"g":"D","t":0.89,"v":-16.9},{"g":"D","t":0.9,"v":-17.3},{"g":"D","t":0.91,"v":-20.6},{"g":"D","t":0.92,"v":-18.6},{"g":"D","t":0.93,"v":-21.9},{"g":"D","t":0.942,"v":-23.8},{"g":"D","t":0.944,"v":-30.9},{"g":"D","t":0.948,"v":-31.3},{"g":"D","t":0.951,"v":-27.6},{"g":"D","t":0.953,"v":-22.9},{"g":"D","t":0.96,"v":-21.9},{"g":"D","t":0.965,"v":-18.9},{"g":"D","t":0.97,"v":-18.3},{"g":"D","t":0.98,"v":-18.6},{"g":"D","t":0.99,"v":-17.3},{"g":"D","t":1,"v":-16.3},{"g":"D","t":1.01,"v":-18.3},{"g":"D","t":1.015,"v":-20.6}
],
"bBars":[
{"i":0,"lo":3.8,"hi":103.8,"top":57.1,"d":[19.2,32.4,45.5]},{"i":1,"lo":3.8,"hi":103.8,"top":64.4,"d":[19.2,32.4,45.5,57.1,59,61,62.9]},{"i":2,"lo":3.8,"hi":103.8,"top":71.4,"d":[19.2,32.4,45.5,57.1,61,64.7,68.1]},{"i":3,"lo":3.8,"hi":103.8,"top":64.4,"d":[19.2,32.4,45.5,57.1,59,61,62.9]},{"i":4,"lo":3.8,"hi":103.8,"top":71.4,"d":[19.2,32.4,45.5,57.1,61,64.7,68.1]},{"i":5,"lo":3.8,"hi":103.8,"top":64.4,"d":[19.2,32.4,45.5,57.1,59,61,62.9]},{"i":6,"lo":3.8,"hi":103.8,"top":57.1,"d":[19.2,32.4,45.5]},{"i":7,"lo":3.8,"hi":103.8,"top":71.4,"d":[19.2,32.4,45.5,57.1,61,64.7,68.1]},{"i":8,"lo":3.8,"hi":103.8,"top":71.4,"d":[19.2,32.4,45.5,57.1,61,64.7,68.1]},{"i":9,"lo":3.8,"hi":103.8,"top":57.1,"d":[19.2,32.4,45.5]},{"i":10,"lo":3.8,"hi":103.8,"top":64.4,"d":[19.2,32.4,45.5,57.1,59,61,62.9]},{"i":11,"lo":3.8,"hi":103.8,"top":57.1,"d":[19.2,32.4,45.5]},{"i":12,"lo":3.8,"hi":103.8,"top":64.4,"d":[19.2,32.4,45.5,57.1,59,61,62.9]},{"i":13,"lo":3.8,"hi":103.8,"top":64.4,"d":[19.2,32.4,45.5,57.1,59,61,62.9]},{"i":14,"lo":3.8,"hi":103.8,"top":64.4,"d":[19.2,32.4,45.5,57.1,59,61,62.9]},{"i":15,"lo":3.8,"hi":103.8,"top":57.1,"d":[19.2,32.4,45.5]},{"i":16,"lo":3.8,"hi":103.8,"top":64.4,"d":[19.2,32.4,45.5,57.1,59,61,62.9]},{"i":17,"lo":3.8,"hi":103.8,"top":71.4,"d":[19.2,32.4,45.5,57.1,61,64.7,68.1]},{"i":18,"lo":3.8,"hi":103.8,"top":71.4,"d":[19.2,32.4,45.5,57.1,61,64.7,68.1]},{"i":19,"lo":3.8,"hi":103.8,"top":71.4,"d":[19.2,32.4,45.5,57.1,61,64.7,68.1]},{"i":20,"lo":3.8,"hi":103.8,"top":71.4,"d":[19.2,32.4,45.5,57.1,61,64.7,68.1]},{"i":21,"lo":3.8,"hi":103.8,"top":71.4,"d":[19.2,32.4,45.5,57.1,61,64.7,68.1]},{"i":22,"lo":3.8,"hi":103.8,"top":71.4,"d":[19.2,32.4,45.5,57.1,61,64.7,68.1]},{"i":23,"lo":3.8,"hi":103.8,"top":78.4,"d":[19.2,32.4,45.5,57.1,62.7,68.5,73.7]},{"i":24,"lo":3.8,"hi":103.8,"top":78.1,"d":[18.9,32.4,45.3,57.1,62.7,68.1,73.2]},{"i":25,"lo":3.8,"hi":103.8,"top":84.6,"d":[19.2,32.4,45.5,57.1,64.9,71.7,78.6]},{"i":26,"lo":3.8,"hi":103.8,"top":84.6,"d":[19.2,32.4,45.5,57.1,64.9,71.7,78.6]},{"i":27,"lo":3.8,"hi":103.8,"top":84.6,"d":[19.2,32.4,45.5,57.1,64.9,71.7,78.6]},{"i":28,"lo":3.8,"hi":103.8,"top":90.5,"d":[19.2,32.4,45.5,57.1,66.6,74.9,83.2]},{"i":29,"lo":3.8,"hi":103.8,"top":90.5,"d":[19.2,32.4,45.5,57.1,66.6,74.9,83.2]},{"i":30,"lo":3.8,"hi":103.8,"top":95.2,"d":[19.2,32.4,45.5,57.1,67.8,77.4,86.8]},{"i":31,"lo":3.8,"hi":103.8,"top":95.2,"d":[19.2,32.4,45.5,57.1,67.8,77.4,86.8]},{"i":32,"lo":3.8,"hi":103.8,"top":98.9,"d":[19.2,32.4,45.5,57.1,69,79.6,90]},{"i":33,"lo":3.8,"hi":103.8,"top":101.4,"d":[19.2,32.4,45.5,57.1,69.8,80.8,92.1]},{"i":34,"lo":3.8,"hi":103.8,"top":103.8,"d":[19.2,32.4,45.5,57.1,70.3,81.8,93.2]},{"i":35,"lo":3.8,"hi":103.8,"top":103.8,"d":[19.2,32.4,45.5,57.1,70.3,81.8,93.2]},{"i":36,"lo":3.8,"hi":103.8,"top":103.8,"d":[19.2,32.4,45.5,57.1,70.3,81.8,93.2]},{"i":37,"lo":3.8,"hi":103.8,"top":103.8,"d":[19.2,32.4,45.5,57.1,70.3,81.8,93.2]},{"i":38,"lo":3.8,"hi":103.8,"top":103.8,"d":[19.2,32.4,45.5,57.1,70.3,81.8,93.2]},{"i":39,"lo":3.8,"hi":103.8,"top":103.8,"d":[19.2,32.4,45.5,57.1,70.3,81.8,93.2]},{"i":40,"lo":3.8,"hi":103.8,"top":103.8,"d":[19.2,32.4,45.5,57.1,70.3,81.8,93.2]},{"i":41,"lo":3.8,"hi":103.8,"top":103.8,"d":[19.2,32.4,45.5,57.1,70.3,81.8,93.2]},{"i":42,"lo":3.8,"hi":103.8,"top":103.8,"d":[19.2,32.4,45.5,57.1,70.3,81.8,93.2]},{"i":43,"lo":3.8,"hi":103.8,"top":103.8,"d":[19.2,32.4,45.5,57.1,70.3,81.8,93.2]},{"i":44,"lo":3.8,"hi":103.8,"top":103.8,"d":[18.5,31.2,44.1,55.1,69,80.8,92.8]},{"i":45,"lo":3.8,"hi":103.8,"top":103.8,"d":[16,26.7,37.3,46.6,62.9,76.9,91]},{"i":46,"lo":3.8,"hi":103.8,"top":103.8,"d":[12.8,20.7,28.5,35.8,55,71.7,88.5]},{"i":47,"lo":3.8,"hi":103.8,"top":103.8,"d":[12.8,20.7,28.5,35.8,55,71.7,88.5]},{"i":48,"lo":3.8,"hi":103.8,"top":103.8,"d":[13.8,20.2,29,34.8,56.1,71.2,89.8]},{"i":49,"lo":3.8,"hi":103.8,"top":103.8,"d":[18.7,20.4,33.6,35.1,67,71.4,99.1]},
{"i":0,"lo":-103.8,"hi":-3.5,"top":-57.7,"d":[-90.4,-78.9,-67.3]},{"i":1,"lo":-103.8,"hi":-3.5,"top":-64.9,"d":[-92.4,-82.8,-73.2]},{"i":2,"lo":-103.8,"hi":-3.5,"top":-57.7,"d":[-90.4,-78.9,-67.3]},{"i":3,"lo":-103.8,"hi":-3.5,"top":-64.9,"d":[-92.4,-82.8,-73.2]},{"i":4,"lo":-103.8,"hi":-3.5,"top":-57.7,"d":[-90.4,-78.9,-67.3]},{"i":5,"lo":-103.8,"hi":-3.5,"top":-64.9,"d":[-92.4,-82.8,-73.2]},{"i":6,"lo":-103.8,"hi":-3.5,"top":-72,"d":[-94.3,-86.5,-78.7]},{"i":7,"lo":-103.8,"hi":-3.5,"top":-57.7,"d":[-90.4,-78.9,-67.3]},{"i":8,"lo":-103.8,"hi":-3.5,"top":-64.9,"d":[-92.4,-82.8,-73.2]},{"i":9,"lo":-103.8,"hi":-3.5,"top":-72,"d":[-94.3,-86.5,-78.7]},{"i":10,"lo":-103.8,"hi":-3.5,"top":-64.9,"d":[-92.4,-82.8,-73.2]},{"i":11,"lo":-103.8,"hi":-3.5,"top":-72,"d":[-94.3,-86.5,-78.7]},{"i":12,"lo":-103.8,"hi":-3.5,"top":-64.9,"d":[-92.4,-82.8,-73.2]},{"i":13,"lo":-103.8,"hi":-3.5,"top":-64.9,"d":[-92.4,-82.8,-73.2]},{"i":14,"lo":-103.8,"hi":-3.5,"top":-64.9,"d":[-92.4,-82.8,-73.2]},{"i":15,"lo":-103.8,"hi":-3.5,"top":-72,"d":[-94.3,-86.5,-78.7]},{"i":16,"lo":-103.8,"hi":-3.5,"top":-78.9,"d":[-96.5,-90.4,-84.2]},{"i":17,"lo":-103.8,"hi":-3.5,"top":-78.9,"d":[-96.5,-90.4,-84.2]},{"i":18,"lo":-103.8,"hi":-3.5,"top":-78.7,"d":[-96.5,-90.4,-84.2]},{"i":19,"lo":-103.8,"hi":-3.5,"top":-78.9,"d":[-96.5,-90.4,-84.2]},{"i":20,"lo":-103.8,"hi":-3.5,"top":-85.2,"d":[-98.2,-93.7,-89.1]},{"i":21,"lo":-103.8,"hi":-3.5,"top":-85.2,"d":[-98.2,-93.7,-89.1]},{"i":22,"lo":-103.8,"hi":-3.5,"top":-91.1,"d":[-99.9,-96.8,-93.5]},{"i":23,"lo":-103.8,"hi":-3.5,"top":-95.5,"d":[-101.2,-99.2,-97.4]},{"i":24,"lo":-103.8,"hi":-3.5,"top":-95.5,"d":[-101.2,-99.2,-97.4]},{"i":25,"lo":-103.8,"hi":-3.5,"top":-99.4,"d":[-103.1,-102.3,-101.4,-100.4]},{"i":26,"lo":-103.8,"hi":-3.5,"top":-99.4,"d":[-103.1,-102.3,-101.4,-100.4]},{"i":27,"lo":-103.8,"hi":-3.5,"top":-99.4,"d":[-103.1,-102.3,-101.4,-100.4]},{"i":28,"lo":-103.8,"hi":-3.5,"top":-101.2,"d":[-103.1,-102.5,-101.8]},{"i":29,"lo":-103.8,"hi":-3.5,"top":-101.6,"d":[-103.1,-102.5]},{"i":30,"lo":-103.8,"hi":-3.5,"d":[]},{"i":31,"lo":-103.8,"hi":-3.5,"d":[]},{"i":32,"lo":-103.8,"hi":-3.5,"d":[]},{"i":33,"lo":-103.8,"hi":-3.5,"d":[]},{"i":34,"lo":-103.8,"hi":-3.5,"d":[]},{"i":35,"lo":-103.8,"hi":-3.5,"d":[]},{"i":36,"lo":-103.8,"hi":-3.5,"d":[]},{"i":37,"lo":-103.8,"hi":-3.5,"d":[]},{"i":38,"lo":-103.8,"hi":-3.5,"d":[]},{"i":39,"lo":-103.8,"hi":-3.5,"d":[]},{"i":40,"lo":-103.8,"hi":-3.5,"d":[]},{"i":41,"lo":-103.8,"hi":-3.5,"d":[]},{"i":42,"lo":-103.8,"hi":-3.5,"d":[]},{"i":43,"lo":-103.8,"hi":-3.5,"d":[]},{"i":44,"lo":-103.8,"hi":-3.5,"d":[]},{"i":45,"lo":-103.8,"hi":-3.5,"d":[]},{"i":46,"lo":-103.8,"hi":-3.5,"d":[]},{"i":47,"lo":-103.8,"hi":-3.5,"d":[]},{"i":48,"lo":-103.8,"hi":-3.5,"d":[]},{"i":49,"lo":-103.8,"hi":-3.5,"d":[]}
],
"cBars":[
{"i":0,"lo":4,"hi":104,"top":99.5,"d":[19.6,32.7,45.9,57.4,69.5,79.8,90.6]},{"i":1,"lo":4,"hi":104,"top":99.5,"d":[19.6,32.7,45.9,57.4,69.5,79.8,90.6]},{"i":2,"lo":4,"hi":104,"top":64.9,"d":[19.6,32.7,45.9,57.4,59.3,61.1,63.2]},{"i":3,"lo":4,"hi":104,"top":89.9,"d":[17.4,28.9,44.2,57.2,64.9,72.1,81.5]},{"i":4,"lo":4,"hi":104,"top":78,"d":[24.5,42.1,50.1,57.3,65.3,72.4,76.2]},{"i":5,"lo":4,"hi":104,"top":104,"d":[19.6,32.7,45.9,57.4,70.8,82.2,93.7]},{"i":6,"lo":4,"hi":104,"top":104,"d":[19.6,32.7,45.9,57.4,70.8,82.2,93.7]},{"i":7,"lo":4,"hi":104,"top":71.9,"d":[19.6,32.7,45.9,57.4,61.5,64.9,68.1]},{"i":8,"lo":4,"hi":104,"top":79,"d":[19.6,32.7,45.9,57.4,63.5,68.8,74.2]},{"i":9,"lo":4,"hi":104,"top":57.4,"d":[19.6,32.7,45.9]},{"i":10,"lo":4,"hi":104,"top":71.9,"d":[19.6,32.7,45.9,57.4,61.5,64.9,68.1]},{"i":11,"lo":4,"hi":104,"top":64.9,"d":[19.6,32.7,45.9,57.4,59.3,61.1,63.2]},{"i":12,"lo":4,"hi":104,"top":78,"d":[17.4,28.9,44.2,57.2,62.1,68.1,72.4]},{"i":13,"lo":4,"hi":104,"top":98.4,"d":[15.4,24.1,42.5,57.2,65.7,72.4,86.8]},{"i":14,"lo":4,"hi":104,"top":95.6,"d":[19.6,32.7,45.9,57.4,68.3,77.7,87.4]},{"i":15,"lo":4,"hi":104,"top":104,"d":[13,32.7,40.7,57.2,65.2,81.9,88.9]},{"i":16,"lo":4,"hi":104,"top":104,"d":[24.5,42.1,50.1,57.4,75,90.2,97.2]},{"i":17,"lo":4,"hi":104,"top":104,"d":[19.6,32.7,45.9,57.4,70.8,82.2,93.7]},{"i":18,"lo":4,"hi":104,"top":91.1,"d":[19.6,32.7,45.9,57.4,66.9,75.2,83.6]},{"i":19,"lo":4,"hi":104,"top":104,"d":[19.6,32.7,45.9,57.4,70.8,82.2,93.7]},{"i":20,"lo":4,"hi":104,"top":102.3,"d":[19.6,32.7,45.9,57.4,70,81.2,92.5]},{"i":21,"lo":4,"hi":104,"top":99.5,"d":[19.6,32.7,45.9,57.4,69.5,79.8,90.6]},{"i":22,"lo":4,"hi":104,"top":104,"d":[15,42.1,57.2,66.7,79.8,90.4]},{"i":23,"lo":4,"hi":104,"top":95.6,"d":[19.6,32.7,45.9,57.4,68.3,77.7,87.4]},{"i":24,"lo":4,"hi":104,"top":57.4,"d":[19.6,32.7,45.9]},{"i":25,"lo":4,"hi":104,"top":91.1,"d":[19.6,32.7,45.9,57.4,66.9,75.2,83.6]},{"i":26,"lo":4,"hi":104,"top":104,"d":[19.6,32.7,45.9,57.4,70.8,82.2,93.7]},{"i":27,"lo":4,"hi":104,"top":64.9,"d":[19.6,32.7,45.9,57.4,59.3,61.1,63.2]},{"i":28,"lo":4,"hi":104,"top":71.4,"d":[15,42.1,57.2,61.8,64.6,66.7]},{"i":29,"lo":4,"hi":104,"top":71.9,"d":[19.6,32.7,45.9,57.4,61.5,64.9,68.1]},{"i":30,"lo":4,"hi":104,"top":99.5,"d":[19.6,32.7,45.9,57.4,69.5,79.8,90.6]},{"i":31,"lo":4,"hi":104,"top":71.4,"d":[17.4,28.9,44.2,57.2,60.4,63.2,64.6]},{"i":32,"lo":4,"hi":104,"top":104,"d":[20.7,33.7,47,57.4,71.9,83.2,94.4]},{"i":33,"lo":4,"hi":104,"top":57.4,"d":[19.6,32.7,45.9]},{"i":34,"lo":4,"hi":104,"top":71.9,"d":[19.6,32.7,45.9,57.4,61.5,64.9,68.1]},{"i":35,"lo":4,"hi":104,"top":91.1,"d":[19.6,32.7,45.9,57.4,66.9,75.2,83.6]},{"i":36,"lo":4,"hi":104,"top":64.9,"d":[19.6,32.7,45.9,57.4,59.3,61.1,63.2]},{"i":37,"lo":4,"hi":104,"top":64.9,"d":[19.6,32.7,45.9,57.4,59.3,61.1,63.2]},{"i":38,"lo":4,"hi":104,"top":102.3,"d":[19.6,32.7,45.9,57.4,70,81.2,92.5]},{"i":39,"lo":4,"hi":104,"top":57.4,"d":[19.6,32.7,45.9]},{"i":40,"lo":4,"hi":104,"top":104,"d":[19.6,32.7,45.9,57.4,70.8,82.2,93.7]},{"i":41,"lo":4,"hi":104,"top":64.9,"d":[19.6,32.7,45.9,57.4,59.3,61.1,63.2]},{"i":42,"lo":4,"hi":104,"top":71.9,"d":[19.6,32.7,45.9,57.4,61.5,64.9,68.1]},{"i":43,"lo":4,"hi":104,"top":71.4,"d":[17.4,28.9,44.2,57.2,61.1,63.9,66.7]},{"i":44,"lo":4,"hi":104,"top":64.9,"d":[19.6,32.7,45.9,57.4,59.3,61.1,63.2]},{"i":45,"lo":4,"hi":104,"top":89.9,"d":[24.5,32.3,50.1,57.2,69.8,74.5,87.1]},{"i":46,"lo":4,"hi":104,"top":104,"d":[11.2,34,39.3,57.2,63.6,83.2,88.2]},{"i":47,"lo":4,"hi":104,"top":99.5,"d":[19.6,32.7,45.9,57.4,69.5,79.8,90.6]},{"i":48,"lo":4,"hi":104,"top":71.9,"d":[19.6,32.7,45.9,57.4,61.5,64.9,68.1]},{"i":49,"lo":4,"hi":104,"top":99.5,"d":[19.6,32.7,45.9,57.4,69.5,79.8,90.6]},{"i":50,"lo":4,"hi":104,"top":94.4,"d":[22.8,39,48.9,57.2,70.9,82.2,88.8]},{"i":51,"lo":4,"hi":104,"top":71.9,"d":[19.6,32.7,45.9,57.4,61.5,64.9,68.1]},{"i":52,"lo":4,"hi":104,"top":71.9,"d":[19.6,32.7,45.9,57.4,61.5,64.9,68.1]},{"i":53,"lo":4,"hi":104,"top":57.4,"d":[19.6,32.7,45.9]},{"i":54,"lo":4,"hi":104,"top":79,"d":[19.6,32.7,45.9,57.4,63.5,68.8,74.2]},{"i":55,"lo":4,"hi":104,"top":85.4,"d":[19.6,32.7,45.9,57.4,65.3,72.4,79]},{"i":56,"lo":4,"hi":104,"top":85.4,"d":[19.6,32.7,45.9,57.4,65.3,72.4,79]},{"i":57,"lo":4,"hi":104,"top":95.6,"d":[19.9,32.7,45.9,57.4,68.6,78,87.4]},{"i":58,"lo":4,"hi":104,"top":57.4,"d":[19.6,32.7,45.9]},{"i":59,"lo":4,"hi":104,"top":57.4,"d":[19.6,32.7,45.9]},{"i":60,"lo":4,"hi":104,"top":71.9,"d":[19.6,32.7,45.9,57.4,61.5,64.9,68.1]},{"i":61,"lo":4,"hi":104,"top":79,"d":[19.6,32.7,45.9,57.4,63.5,68.8,74.2]},{"i":62,"lo":4,"hi":104,"top":101.9,"d":[22.8,39,48.9,57.2,73.8,86.4,94.4]},{"i":63,"lo":4,"hi":104,"top":71.4,"d":[24.5,42.1,50.1,57.2,61.8,64.6,67.4,69.5]},{"i":64,"lo":4,"hi":104,"top":95.6,"d":[19.6,32.7,45.9,57.4,68.3,77.7,87.4]},{"i":65,"lo":4,"hi":104,"top":102.3,"d":[19.6,32.7,45.9,57.4,70,81.2,92.5]},{"i":66,"lo":4,"hi":104,"top":78.7,"d":[19.6,32.7,45.9,57.4,63.2,68.6,73.8]},{"i":67,"lo":4,"hi":104,"top":99.5,"d":[19.6,32.7,45.9,57.4,68.1,79.8]},{"i":68,"lo":4,"hi":104,"top":104,"d":[16.4,32.7,43.5,57.4,68.1,81.9,91.3]},{"i":69,"lo":4,"hi":104,"top":104,"d":[15,24.5,42.1,57.2,66.7,75.2,90.4]},{"i":70,"lo":4,"hi":104,"top":102.3,"d":[18.2,30.4,44.6,57.4,69.1,79.7,91.8]},{"i":71,"lo":4,"hi":104,"top":99.5,"d":[19.6,32.7,45.9,57.4,79.8]},{"i":72,"lo":4,"hi":104,"top":57.4,"d":[19.6,32.7,45.9]},{"i":73,"lo":4,"hi":104,"top":98.7,"d":[21.7,32.7,47.7,57.4,70.9,79.4,91.3]},{"i":74,"lo":4,"hi":104,"top":57.4,"d":[19.6,32.7,45.9]},{"i":75,"lo":4,"hi":104,"top":94.9,"d":[21.7,32.7,36.9,57.4,69.8,80.8,88.2]},{"i":76,"lo":4,"hi":104,"top":102.3,"d":[19.6,32.7,45.9,57.4,70,81.2,92.5]},{"i":77,"lo":4,"hi":104,"top":95.6,"d":[19.6,32.7,45.9,57.4,68.3,77.7,87.4]},{"i":78,"lo":4,"hi":104,"top":64.9,"d":[19.6,32.7,45.9,57.4,59.3,61.1,63.2]},{"i":79,"lo":4,"hi":104,"top":94.9,"d":[21,32.7,47,57.4,69.1,77.3,87.1]},{"i":80,"lo":4,"hi":104,"top":57.4,"d":[24.5,42.1,50.1]},{"i":81,"lo":4,"hi":104,"top":57.4,"d":[19.6,32.7,45.9]},{"i":82,"lo":4,"hi":104,"top":95.6,"d":[19.6,32.7,45.9,57.4,77.6]},{"i":83,"lo":4,"hi":104,"top":71.9,"d":[18.2,32.7,44.9,57.4,61.5,64.9,68.1]},{"i":84,"lo":4,"hi":104,"top":57.4,"d":[19.6,32.7,45.9]},{"i":85,"lo":4,"hi":104,"top":99.5,"d":[19.6,32.7,45.9,57.4,69.5,79.8,90.6]},{"i":86,"lo":4,"hi":104,"top":91.1,"d":[19.6,32.7,45.9,57.4,66.9,75.2,83.6]},{"i":87,"lo":4,"hi":104,"top":71.9,"d":[19.6,32.7,45.9,57.4,61.5,64.9,68.1]},{"i":88,"lo":4,"hi":104,"top":85.4,"d":[19.6,32.7,45.9,57.4,65.3,72.4,79]},{"i":89,"lo":4,"hi":104,"top":71.9,"d":[19.6,32.7,45.9,57.4,61.5,64.9,68.1]},{"i":90,"lo":4,"hi":104,"top":57.4,"d":[18.2,32.7,44.9]},{"i":91,"lo":4,"hi":104,"top":89.9,"d":[21.7,36.9,48,57.4,68.3,77.6,84]},{"i":92,"lo":4,"hi":104,"top":89.9,"d":[22.8,39,48.9,57.4,68.6,76.6,84.6]},{"i":93,"lo":4,"hi":104,"top":99.5,"d":[19.6,32.7,45.9,57.4,69.5,79.8,90.6]},{"i":94,"lo":4,"hi":104,"top":91.1,"d":[19.6,32.7,45.9,57.4,66.9,75.2,83.6]},{"i":95,"lo":4,"hi":104,"top":79,"d":[19.6,32.7,45.9,57.4,63.5,68.8,74.2]},{"i":96,"lo":4,"hi":104,"top":79,"d":[19.6,32.7,45.9,57.4,63.5,68.8,74.2]},{"i":97,"lo":4,"hi":104,"top":104,"d":[19.6,32.7,45.9,57.4,70.8,82.2,93.7]},{"i":98,"lo":4,"hi":104,"top":57.4,"d":[13,32.7,40.7]},{"i":99,"lo":4,"hi":104,"top":79,"d":[19.6,32.7,45.9,57.4,63.5,68.8,74.2]},
{"i":0,"lo":-104,"hi":-4.1,"top":-85.6,"d":[-98.7,-93.7,-89.1]},{"i":1,"lo":-104,"hi":-4.1,"top":-99.6,"d":[-102.9,-101.9,-100.8]},{"i":2,"lo":-104,"hi":-4.1,"top":-91.3,"d":[-100.1,-96.5,-93.7]},{"i":3,"lo":-104,"hi":-4.1,"top":-102.2,"d":[-103.2,-102.9,-102.5]},{"i":4,"lo":-104,"hi":-4.1,"top":-79.2,"d":[-96.5,-90.5,-84.6]},{"i":5,"lo":-104,"hi":-4.1,"d":[]},{"i":6,"lo":-104,"hi":-4.1,"top":-101.7,"d":[-102.9,-102.2]},{"i":7,"lo":-104,"hi":-4.1,"top":-57.9,"d":[-90.5,-79,-67.7]},{"i":8,"lo":-104,"hi":-4.1,"top":-65.2,"d":[-92.6,-82.9,-73.3]},{"i":9,"lo":-104,"hi":-4.1,"top":-72.2,"d":[-94.6,-86.7,-79]},{"i":10,"lo":-104,"hi":-4.1,"top":-79.2,"d":[-96.5,-90.5,-84.6]},{"i":11,"lo":-104,"hi":-4.1,"top":-65.2,"d":[-92.6,-82.9,-73.3]},{"i":12,"lo":-104,"hi":-4.1,"d":[]},{"i":13,"lo":-104,"hi":-4.1,"d":[]},{"i":14,"lo":-104,"hi":-4.1,"top":-72.2,"d":[-94.6,-86.7,-79]},{"i":15,"lo":-104,"hi":-4.1,"d":[]},{"i":16,"lo":-104,"hi":-4.1,"top":-71.7,"d":[-88.8,-76.2,-74.7,-73.3]},{"i":17,"lo":-104,"hi":-4.1,"top":-102.2,"d":[-103.2,-102.9,-102.5]},{"i":18,"lo":-104,"hi":-4.1,"top":-91.3,"d":[-100.1,-96.5,-93.7]},{"i":19,"lo":-104,"hi":-4.1,"top":-99.6,"d":[-102.9,-101.9,-100.8]},{"i":20,"lo":-104,"hi":-4.1,"top":-99.6,"d":[-102.9,-101.9,-100.8]},{"i":21,"lo":-104,"hi":-4.1,"d":[]},{"i":22,"lo":-104,"hi":-4.1,"top":-102.5,"d":[-103.2,-102.9]},{"i":23,"lo":-104,"hi":-4.1,"top":-99.2,"d":[-102.9,-101.9,-100.8]},{"i":24,"lo":-104,"hi":-4.1,"top":-72.2,"d":[-94.6,-86.7,-79]},{"i":25,"lo":-104,"hi":-4.1,"top":-91.3,"d":[-100.1,-96.5,-93.7]},{"i":26,"lo":-104,"hi":-4.1,"top":-95.8,"d":[-99.4]},{"i":27,"lo":-104,"hi":-4.1,"top":-65.2,"d":[-92.6,-82.9,-73.3]},{"i":28,"lo":-104,"hi":-4.1,"top":-57.9,"d":[-94.4,-79,-70.5]},{"i":29,"lo":-104,"hi":-4.1,"top":-57.9,"d":[-90.5,-79,-67.7]},{"i":30,"lo":-104,"hi":-4.1,"top":-72.2,"d":[-94.6,-86.7,-79]},{"i":31,"lo":-104,"hi":-4.1,"top":-64.6,"d":[-93.7,-82.9,-74]},{"i":32,"lo":-104,"hi":-4.1,"d":[]},{"i":33,"lo":-104,"hi":-4.1,"top":-72.2,"d":[-94.6,-86.7,-79]},{"i":34,"lo":-104,"hi":-4.1,"top":-57.9,"d":[-90.5,-79,-67.7]},{"i":35,"lo":-104,"hi":-4.1,"d":[]},{"i":36,"lo":-104,"hi":-4.1,"top":-85.6,"d":[-98.7,-93.7,-89.1]},{"i":37,"lo":-104,"hi":-4.1,"top":-72.2,"d":[-94.6,-86.7,-79]},{"i":38,"lo":-104,"hi":-4.1,"top":-95.8,"d":[-101.5,-99.4,-97.7]},{"i":39,"lo":-104,"hi":-4.1,"top":-72.2,"d":[-94.6,-86.7,-79]},{"i":40,"lo":-104,"hi":-4.1,"d":[]},{"i":41,"lo":-104,"hi":-4.1,"top":-65.2,"d":[-92.6,-82.9,-73.3]},{"i":42,"lo":-104,"hi":-4.1,"top":-102.2,"d":[-103.2,-102.9,-102.5]},{"i":43,"lo":-104,"hi":-4.1,"top":-57.9,"d":[-92.3,-81.8,-68.8]},{"i":44,"lo":-104,"hi":-4.1,"top":-95.1,"d":[-101,-99.1,-97.2]},{"i":45,"lo":-104,"hi":-4.1,"d":[]},{"i":46,"lo":-104,"hi":-4.1,"top":-102.2,"d":[-103.2]},{"i":47,"lo":-104,"hi":-4.1,"top":-85.6,"d":[-98.7,-93.7,-89.1]},{"i":48,"lo":-104,"hi":-4.1,"top":-85.6,"d":[-98.7,-93.7,-89.1]},{"i":49,"lo":-104,"hi":-4.1,"d":[]},{"i":50,"lo":-104,"hi":-4.1,"top":-99.6,"d":[-102.9,-101.9,-100.8]},{"i":51,"lo":-104,"hi":-4.1,"top":-57.9,"d":[-90.5,-79,-67.7]},{"i":52,"lo":-104,"hi":-4.1,"top":-57.9,"d":[-90.5,-79,-67.7]},{"i":53,"lo":-104,"hi":-4.1,"top":-72.2,"d":[-94.6,-86.7,-79]},{"i":54,"lo":-104,"hi":-4.1,"top":-99.6,"d":[-102.9,-101.9,-100.8]},{"i":55,"lo":-104,"hi":-4.1,"top":-91.3,"d":[-100.1,-96.5,-93.7]},{"i":56,"lo":-104,"hi":-4.1,"top":-102.2,"d":[-103.2,-102.9,-102.5]},{"i":57,"lo":-104,"hi":-4.1,"top":-90.6,"d":[-100.1,-96.5,-93]},{"i":58,"lo":-104,"hi":-4.1,"top":-72.2,"d":[-94.6,-86.7,-79]},{"i":59,"lo":-104,"hi":-4.1,"top":-72.2,"d":[-94.6,-86.7,-79]},{"i":60,"lo":-104,"hi":-4.1,"top":-85.6,"d":[-98.7,-93.7,-89.1]},{"i":61,"lo":-104,"hi":-4.1,"top":-91.3,"d":[-100.1,-96.5,-93.7]},{"i":62,"lo":-104,"hi":-4.1,"d":[]},{"i":63,"lo":-104,"hi":-4.1,"top":-57.9,"d":[-87.4,-73.3,-65.2]},{"i":64,"lo":-104,"hi":-4.1,"d":[]},{"i":65,"lo":-104,"hi":-4.1,"d":[]},{"i":66,"lo":-104,"hi":-4.1,"top":-65.2,"d":[-92.6,-82.9,-73.3]},{"i":67,"lo":-104,"hi":-4.1,"top":-91.3,"d":[-100.1,-96.5,-93.7]},{"i":68,"lo":-104,"hi":-4.1,"d":[]},{"i":69,"lo":-104,"hi":-4.1,"top":-85.6,"d":[-98.7,-93.7,-89.1]},{"i":70,"lo":-104,"hi":-4.1,"top":-99.4,"d":[-102.9,-101.9,-100.8]},{"i":71,"lo":-104,"hi":-4.1,"d":[]},{"i":72,"lo":-104,"hi":-4.1,"top":-65.2,"d":[-92.6,-82.9,-73.3]},{"i":73,"lo":-104,"hi":-4.1,"d":[]},{"i":74,"lo":-104,"hi":-4.1,"top":-85.6,"d":[-98.7,-93.7,-89.1]},{"i":75,"lo":-104,"hi":-4.1,"d":[]},{"i":76,"lo":-104,"hi":-4.1,"top":-95.3,"d":[-101,-99.1,-97.2]},{"i":77,"lo":-104,"hi":-4.1,"d":[]},{"i":78,"lo":-104,"hi":-4.1,"top":-65.2,"d":[-92.6,-82.9,-73.3]},{"i":79,"lo":-104,"hi":-4.1,"top":-99.6,"d":[-102.9,-101.9,-100.8]},{"i":80,"lo":-104,"hi":-4.1,"top":-71.5,"d":[-91.6,-81.2,-75.9]},{"i":81,"lo":-104,"hi":-4.1,"top":-72.2,"d":[-94.6,-86.7,-79]},{"i":82,"lo":-104,"hi":-4.1,"d":[]},{"i":83,"lo":-104,"hi":-4.1,"top":-57.9,"d":[-90.5,-79,-67.7]},{"i":84,"lo":-104,"hi":-4.1,"top":-71.9,"d":[-94.6,-86.7,-78.3]},{"i":85,"lo":-104,"hi":-4.1,"top":-90.2,"d":[-98.7,-95.1,-93]},{"i":86,"lo":-104,"hi":-4.1,"top":-91.3,"d":[-100.1,-96.5,-93.7]},{"i":87,"lo":-104,"hi":-4.1,"top":-85.6,"d":[-98.7,-93.7,-89.1]},{"i":88,"lo":-104,"hi":-4.1,"top":-79.2,"d":[-96.5,-90.5,-84.6]},{"i":89,"lo":-104,"hi":-4.1,"top":-65.2,"d":[-92.6,-82.9,-73.3]},{"i":90,"lo":-104,"hi":-4.1,"top":-64.9,"d":[-93.3,-82.9,-74]},{"i":91,"lo":-104,"hi":-4.1,"top":-95.8,"d":[-101.5,-99.4,-97.7]},{"i":92,"lo":-104,"hi":-4.1,"top":-71.5,"d":[-88.1]},{"i":93,"lo":-104,"hi":-4.1,"top":-102.2,"d":[-103.2,-102.9,-102.5]},{"i":94,"lo":-104,"hi":-4.1,"d":[]},{"i":95,"lo":-104,"hi":-4.1,"top":-102.2,"d":[-103.2,-102.9,-102.5]},{"i":96,"lo":-104,"hi":-4.1,"top":-91.3,"d":[-100.1,-96.5,-93.7]},{"i":97,"lo":-104,"hi":-4.1,"d":[]},{"i":98,"lo":-104,"hi":-4.1,"top":-71.5,"d":[-96.8,-86.7,-80.4]},{"i":99,"lo":-104,"hi":-4.1,"top":-70.8,"d":[-97.2,-89.2,-80.4]}
]
},
"vconcat":[
{"spacing":0,"hconcat":[
{"width":1650,"height":935,"resolve":{"scale":{"fill":"independent"}},"layer":[
{"data":{"name":"env"},"mark":{"type":"area"},"encoding":{"x":{"field":"t","type":"quantitative","scale":{"domain":[-0.01624,1.0772]},"axis":null},"y":{"field":"mu","type":"quantitative","scale":{"domain":[-49.1,44.4]},"axis":null},"y2":{"field":"ml"},"fill":{"field":"g","type":"nominal","legend":null,"scale":{"domain":["A","D"],"range":["#957d7d","#7f85a5"]}}}},
{"data":{"name":"env"},"mark":{"type":"area"},"encoding":{"x":{"field":"t","type":"quantitative","scale":{"domain":[-0.01624,1.0772]},"axis":null},"y":{"field":"cu","type":"quantitative","scale":{"domain":[-49.1,44.4]},"axis":null},"y2":{"field":"cl"},"fill":{"field":"g","type":"nominal","legend":null,"scale":{"domain":["A","D"],"range":["#866262","#676f96"]}}}},
{"data":{"values":[{"z":"a1","t0":0,"t1":0.5,"v0":0.6,"v1":2.9},{"z":"d1","t0":0,"t1":0.68,"v0":-0.8,"v1":-3.3}]},"mark":{"type":"rect"},"encoding":{"x":{"field":"t0","type":"quantitative","scale":{"domain":[-0.01624,1.0772]},"axis":null},"x2":{"field":"t1"},"y":{"field":"v0","type":"quantitative","scale":{"domain":[-49.1,44.4]},"axis":null},"y2":{"field":"v1"},"fill":{"field":"z","type":"nominal","legend":null,"scale":{"domain":["a1","d1"],"range":["#8c6c6c","#6d7598"]}}}},
{"data":{"name":"aPts"},"transform":[{"flatten":["r"]}],"mark":{"type":"point","filled":false,"size":64,"strokeWidth":2,"opacity":0.6},"encoding":{"x":{"field":"t","type":"quantitative","scale":{"domain":[-0.01624,1.0772]},"axis":null},"y":{"field":"r","type":"quantitative","scale":{"domain":[-49.1,44.4]},"axis":null},"stroke":{"field":"g","type":"nominal","legend":null,"scale":{"domain":["A","D"],"range":["#8a7272","#7f84a4"]}}}},
{"data":{"name":"traj"},"transform":[{"window":[{"op":"lead","field":"t","as":"t2"},{"op":"lead","field":"v","as":"v2"}],"sort":[{"field":"t"}],"groupby":["g"]},{"filter":{"field":"t2","valid":true}}],"mark":{"type":"rule","strokeWidth":5,"strokeCap":"round"},"encoding":{"x":{"field":"t","type":"quantitative","scale":{"domain":[-0.01624,1.0772]},"axis":null},"x2":{"field":"t2"},"y":{"field":"v","type":"quantitative","scale":{"domain":[-49.1,44.4]},"axis":null},"y2":{"field":"v2"},"color":{"field":"t","type":"quantitative","legend":null,"scale":{"scheme":"inferno","domain":[0,1.02]}}}},
{"data":{"values":[{"x":0,"x2":1.0275,"y":0}]},"mark":{"type":"rule","color":"white","strokeWidth":12},"encoding":{"x":{"field":"x","type":"quantitative","scale":{"domain":[-0.01624,1.0772]},"axis":null},"x2":{"field":"x2"},"y":{"field":"y","type":"quantitative","scale":{"domain":[-49.1,44.4]},"axis":null}}},
{"data":{"values":[{"x":0,"x2":1.0275,"y":0}]},"mark":{"type":"rule","color":"#ff0000","strokeWidth":7,"strokeDash":[8,7.3]},"encoding":{"x":{"field":"x","type":"quantitative","scale":{"domain":[-0.01624,1.0772]},"axis":null},"x2":{"field":"x2"},"y":{"field":"y","type":"quantitative","scale":{"domain":[-49.1,44.4]},"axis":null}}},
{"data":{"values":[{"x":1.04,"y":0}]},"mark":{"type":"point","filled":true,"opacity":1,"color":"#ff0000","size":900,"shape":"M-1,-0.6L1,0L-1,0.6L-0.55,0Z"},"encoding":{"x":{"field":"x","type":"quantitative","scale":{"domain":[-0.01624,1.0772]},"axis":null},"y":{"field":"y","type":"quantitative","scale":{"domain":[-49.1,44.4]},"axis":null}}},
{"data":{"values":[{"x":0.4,"y":40.8,"y2":-37.9}]},"mark":{"type":"rule","color":"#0000ff","strokeWidth":7,"strokeDash":[7,7]},"encoding":{"x":{"field":"x","type":"quantitative","scale":{"domain":[-0.01624,1.0772]},"axis":null},"y":{"field":"y","type":"quantitative","scale":{"domain":[-49.1,44.4]},"axis":null},"y2":{"field":"y2"}}},
{"data":{"values":[{"x":0.9234,"y":2.6,"label":"Time"}]},"mark":{"type":"text","font":"DejaVu Sans","fontSize":42,"align":"center","baseline":"middle","color":"#111111"},"encoding":{"x":{"field":"x","type":"quantitative","scale":{"domain":[-0.01624,1.0772]},"axis":null},"y":{"field":"y","type":"quantitative","scale":{"domain":[-49.1,44.4]},"axis":null},"text":{"field":"label"}}},
{"data":{"values":[{"x":0.4132,"y":-36.1,"label":"t=0.40"}]},"mark":{"type":"text","font":"DejaVu Sans","fontSize":43,"align":"left","baseline":"middle","color":"#111111"},"encoding":{"x":{"field":"x","type":"quantitative","scale":{"domain":[-0.01624,1.0772]},"axis":null},"y":{"field":"y","type":"quantitative","scale":{"domain":[-49.1,44.4]},"axis":null},"text":{"field":"label"}}},
{"data":{"values":[{"x":1.03,"y":18.1,"label":"Acceptors"},{"x":1.03,"y":-21.3,"label":"Donors"}]},"mark":{"type":"text","font":"DejaVu Sans","fontSize":42,"angle":270,"align":"center","baseline":"middle","color":"#111111"},"encoding":{"x":{"field":"x","type":"quantitative","scale":{"domain":[-0.01624,1.0772]},"axis":null},"y":{"field":"y","type":"quantitative","scale":{"domain":[-49.1,44.4]},"axis":null},"text":{"field":"label"}}},
{"data":{"values":[{"x":0.506,"y":-44.8,"label":"("},{"x":0.5432,"y":-44.8,"label":")"}]},"mark":{"type":"text","font":"Liberation Serif","fontSize":67,"align":"center","baseline":"middle","color":"#000000"},"encoding":{"x":{"field":"x","type":"quantitative","scale":{"domain":[-0.01624,1.0772]},"axis":null},"y":{"field":"y","type":"quantitative","scale":{"domain":[-49.1,44.4]},"axis":null},"text":{"field":"label"}}},
{"data":{"values":[{"x":0.5246,"y":-44.8,"label":"a"}]},"mark":{"type":"text","font":"Liberation Serif","fontWeight":"bold","fontSize":67,"align":"center","baseline":"middle","color":"#000000"},"encoding":{"x":{"field":"x","type":"quantitative","scale":{"domain":[-0.01624,1.0772]},"axis":null},"y":{"field":"y","type":"quantitative","scale":{"domain":[-49.1,44.4]},"axis":null},"text":{"field":"label"}}}
]},
{"width":1667,"height":935,"layer":[
{"data":{"name":"bBars"},"mark":{"type":"bar","width":21.5,"stroke":"#555555","strokeWidth":2},"encoding":{"x":{"field":"i","type":"quantitative","scale":{"domain":[-3.351,54.53],"padding":0},"axis":null},"y":{"field":"lo","type":"quantitative","scale":{"domain":[-147.8,126.4]},"axis":null},"y2":{"field":"hi"},"fill":{"condition":{"test":"datum.i==21","value":"#b8426c"},"value":"#6f89cb"}}},
{"data":{"name":"bBars"},"transform":[{"filter":{"field":"top","valid":true}}],"mark":{"type":"bar","width":21.5,"stroke":"#555555","strokeWidth":2},"encoding":{"x":{"field":"i","type":"quantitative","scale":{"domain":[-3.351,54.53],"padding":0},"axis":null},"y":{"field":"lo","type":"quantitative","scale":{"domain":[-147.8,126.4]},"axis":null},"y2":{"field":"top"},"fill":{"condition":{"test":"datum.i==21","value":"#db3a32"},"value":"#b16e58"}}},
{"data":{"name":"bBars"},"transform":[{"flatten":["d"]}],"mark":{"type":"tick","orient":"horizontal","size":21.5,"thickness":2,"color":"#4a3a36","opacity":1},"encoding":{"x":{"field":"i","type":"quantitative","scale":{"domain":[-3.351,54.53],"padding":0},"axis":null},"y":{"field":"d","type":"quantitative","scale":{"domain":[-147.8,126.4]},"axis":null}}},
{"data":{"values":[{"x":-0.92,"x2":52.6,"y":0}]},"mark":{"type":"rule","color":"#ff0000","strokeWidth":6,"strokeDash":[8,6.8]},"encoding":{"x":{"field":"x","type":"quantitative","scale":{"domain":[-3.351,54.53],"padding":0},"axis":null},"x2":{"field":"x2"},"y":{"field":"y","type":"quantitative","scale":{"domain":[-147.8,126.4]},"axis":null}}},
{"data":{"values":[{"x":52.96,"y":0}]},"mark":{"type":"point","filled":true,"opacity":1,"color":"#ff0000","size":841,"shape":"M-1,-0.6L1,0L-1,0.6L-0.55,0Z"},"encoding":{"x":{"field":"x","type":"quantitative","scale":{"domain":[-3.351,54.53],"padding":0},"axis":null},"y":{"field":"y","type":"quantitative","scale":{"domain":[-147.8,126.4]},"axis":null}}},
{"data":{"values":[{"x":20.47,"y":105.3,"y2":-109.1}]},"mark":{"type":"rule","color":"white","strokeWidth":6},"encoding":{"x":{"field":"x","type":"quantitative","scale":{"domain":[-3.351,54.53],"padding":0},"axis":null},"y":{"field":"y","type":"quantitative","scale":{"domain":[-147.8,126.4]},"axis":null},"y2":{"field":"y2"}}},
{"data":{"values":[{"x":20.47,"y":105.3,"y2":-109.1}]},"mark":{"type":"rule","color":"#0000ff","strokeWidth":6,"strokeDash":[7,6.2]},"encoding":{"x":{"field":"x","type":"quantitative","scale":{"domain":[-3.351,54.53],"padding":0},"axis":null},"y":{"field":"y","type":"quantitative","scale":{"domain":[-147.8,126.4]},"axis":null},"y2":{"field":"y2"}}},
{"data":{"values":[{"x":51.7,"y":8.5,"label":"Time"}]},"mark":{"type":"text","font":"DejaVu Sans","fontSize":39,"align":"center","baseline":"middle","color":"#111111"},"encoding":{"x":{"field":"x","type":"quantitative","scale":{"domain":[-3.351,54.53],"padding":0},"axis":null},"y":{"field":"y","type":"quantitative","scale":{"domain":[-147.8,126.4]},"axis":null},"text":{"field":"label"}}},
{"data":{"values":[{"x":20.8,"y":-108.8,"label":"t=0.40"}]},"mark":{"type":"text","font":"DejaVu Sans","fontSize":39.6,"align":"left","baseline":"middle","color":"#111111"},"encoding":{"x":{"field":"x","type":"quantitative","scale":{"domain":[-3.351,54.53],"padding":0},"axis":null},"y":{"field":"y","type":"quantitative","scale":{"domain":[-147.8,126.4]},"axis":null},"text":{"field":"label"}}},
{"data":{"values":[{"x":50.3,"y":54,"label":"Acceptors"},{"x":50.3,"y":-54,"label":"Donors"}]},"mark":{"type":"text","font":"DejaVu Sans","fontSize":39,"angle":270,"align":"center","baseline":"middle","color":"#111111"},"encoding":{"x":{"field":"x","type":"quantitative","scale":{"domain":[-3.351,54.53],"padding":0},"axis":null},"y":{"field":"y","type":"quantitative","scale":{"domain":[-147.8,126.4]},"axis":null},"text":{"field":"label"}}},
{"data":{"values":[{"x":25.19,"y":-135.2,"label":"("},{"x":27.13,"y":-135.2,"label":")"}]},"mark":{"type":"text","font":"Liberation Serif","fontSize":67,"align":"center","baseline":"middle","color":"#000000"},"encoding":{"x":{"field":"x","type":"quantitative","scale":{"domain":[-3.351,54.53],"padding":0},"axis":null},"y":{"field":"y","type":"quantitative","scale":{"domain":[-147.8,126.4]},"axis":null},"text":{"field":"label"}}},
{"data":{"values":[{"x":26.16,"y":-135.2,"label":"b"}]},"mark":{"type":"text","font":"Liberation Serif","fontWeight":"bold","fontSize":67,"align":"center","baseline":"middle","color":"#000000"},"encoding":{"x":{"field":"x","type":"quantitative","scale":{"domain":[-3.351,54.53],"padding":0},"axis":null},"y":{"field":"y","type":"quantitative","scale":{"domain":[-147.8,126.4]},"axis":null},"text":{"field":"label"}}}
]}
]},
{"spacing":0,"hconcat":[
{"width":1650,"height":935,"layer":[
{"data":{"name":"cBars"},"mark":{"type":"bar","width":12,"stroke":"#6a6a6a","strokeWidth":1.6},"encoding":{"x":{"field":"i","type":"quantitative","scale":{"domain":[-4.038,116.58],"padding":0},"axis":null},"y":{"field":"lo","type":"quantitative","scale":{"domain":[-147.4,138.5]},"axis":null},"y2":{"field":"hi"},"fill":{"condition":{"test":"datum.i==60","value":"#b8426c"},"value":"#6f89cb"}}},
{"data":{"name":"cBars"},"transform":[{"filter":{"field":"top","valid":true}}],"mark":{"type":"bar","width":12,"stroke":"#6a6a6a","strokeWidth":1.6},"encoding":{"x":{"field":"i","type":"quantitative","scale":{"domain":[-4.038,116.58],"padding":0},"axis":null},"y":{"field":"lo","type":"quantitative","scale":{"domain":[-147.4,138.5]},"axis":null},"y2":{"field":"top"},"fill":{"condition":{"test":"datum.i==60","value":"#db3a32"},"value":"#b16e58"}}},
{"data":{"name":"cBars"},"transform":[{"flatten":["d"]}],"mark":{"type":"tick","orient":"horizontal","size":12,"thickness":1.5,"color":"#4a3a36","opacity":1},"encoding":{"x":{"field":"i","type":"quantitative","scale":{"domain":[-4.038,116.58],"padding":0},"axis":null},"y":{"field":"d","type":"quantitative","scale":{"domain":[-147.4,138.5]},"axis":null}}},
{"data":{"values":[{"x":-2.5,"x2":108.9,"y":0}]},"mark":{"type":"rule","color":"#999999","strokeWidth":7,"strokeDash":[7,7.3]},"encoding":{"x":{"field":"x","type":"quantitative","scale":{"domain":[-4.038,116.58],"padding":0},"axis":null},"x2":{"field":"x2"},"y":{"field":"y","type":"quantitative","scale":{"domain":[-147.4,138.5]},"axis":null}}},
{"data":{"values":[{"x":109.7,"y":0}]},"mark":{"type":"point","filled":true,"opacity":1,"color":"#999999","size":841,"shape":"M-1,-0.6L1,0L-1,0.6L-0.55,0Z"},"encoding":{"x":{"field":"x","type":"quantitative","scale":{"domain":[-4.038,116.58],"padding":0},"axis":null},"y":{"field":"y","type":"quantitative","scale":{"domain":[-147.4,138.5]},"axis":null}}},
{"data":{"values":[{"x":106.3,"y":7.6,"label":"Ids"},{"x":107.4,"y":-7,"label":"(0 to 99)"}]},"mark":{"type":"text","font":"DejaVu Sans","fontSize":40,"align":"center","baseline":"middle","color":"#111111"},"encoding":{"x":{"field":"x","type":"quantitative","scale":{"domain":[-4.038,116.58],"padding":0},"axis":null},"y":{"field":"y","type":"quantitative","scale":{"domain":[-147.4,138.5]},"axis":null},"text":{"field":"label"}}},
{"data":{"values":[{"x":100.97,"y":54.1,"label":"Acceptors"},{"x":100.97,"y":-53.5,"label":"Donors"}]},"mark":{"type":"text","font":"DejaVu Sans","fontSize":38,"angle":270,"align":"center","baseline":"middle","color":"#111111"},"encoding":{"x":{"field":"x","type":"quantitative","scale":{"domain":[-4.038,116.58],"padding":0},"axis":null},"y":{"field":"y","type":"quantitative","scale":{"domain":[-147.4,138.5]},"axis":null},"text":{"field":"label"}}},
{"data":{"values":[{"x":53.55,"y":-130.6,"label":"("},{"x":57.65,"y":-130.6,"label":")"}]},"mark":{"type":"text","font":"Liberation Serif","fontSize":67,"align":"center","baseline":"middle","color":"#000000"},"encoding":{"x":{"field":"x","type":"quantitative","scale":{"domain":[-4.038,116.58],"padding":0},"axis":null},"y":{"field":"y","type":"quantitative","scale":{"domain":[-147.4,138.5]},"axis":null},"text":{"field":"label"}}},
{"data":{"values":[{"x":55.6,"y":-130.6,"label":"c"}]},"mark":{"type":"text","font":"Liberation Serif","fontWeight":"bold","fontSize":67,"align":"center","baseline":"middle","color":"#000000"},"encoding":{"x":{"field":"x","type":"quantitative","scale":{"domain":[-4.038,116.58],"padding":0},"axis":null},"y":{"field":"y","type":"quantitative","scale":{"domain":[-147.4,138.5]},"axis":null},"text":{"field":"label"}}}
]},
{"width":1667,"height":935,"layer":[
{"data":{"values":[{"x":-1.483,"lo":-0.997,"hi":1.003,"top":0.36},{"x":-1.287,"lo":-0.997,"hi":1.003,"top":-0.626}]},"mark":{"type":"bar","width":52,"stroke":"#444444","strokeWidth":3,"fill":"#6f89cb"},"encoding":{"x":{"field":"x","type":"quantitative","scale":{"domain":[-1.805,2.559],"padding":0},"axis":null},"y":{"field":"lo","type":"quantitative","scale":{"domain":[-1.356,1.092]},"axis":null},"y2":{"field":"hi"}}},
{"data":{"values":[{"x":-1.483,"lo":-0.997,"hi":1.003,"top":0.36},{"x":-1.287,"lo":-0.997,"hi":1.003,"top":-0.626}]},"mark":{"type":"bar","width":52,"stroke":"#444444","strokeWidth":3,"fill":"#b16e58"},"encoding":{"x":{"field":"x","type":"quantitative","scale":{"domain":[-1.805,2.559],"padding":0},"axis":null},"y":{"field":"lo","type":"quantitative","scale":{"domain":[-1.356,1.092]},"axis":null},"y2":{"field":"top"}}},
{"data":{"values":[{"x":-1.483,"d":[0.296,0.224,0.153,0.071,-0.156,-0.424,-0.688]},{"x":-1.287,"d":[-0.707,-0.798,-0.886]}]},"transform":[{"flatten":["d"]}],"mark":{"type":"tick","orient":"horizontal","size":52,"thickness":2.5,"color":"#444444","opacity":1},"encoding":{"x":{"field":"x","type":"quantitative","scale":{"domain":[-1.805,2.559],"padding":0},"axis":null},"y":{"field":"d","type":"quantitative","scale":{"domain":[-1.356,1.092]},"axis":null}}},
{"data":{"values":[{"x":0,"y":0,"r":1}]},"mark":{"type":"arc","fill":"#6f89cb","stroke":"#4a4a4a","strokeWidth":4},"encoding":{"x":{"field":"x","type":"quantitative","scale":{"domain":[-1.805,2.559],"padding":0},"axis":null},"y":{"field":"y","type":"quantitative","scale":{"domain":[-1.356,1.092]},"axis":null},"radius":{"field":"r","type":"quantitative","stack":null,"scale":{"type":"linear","domain":[0,1],"range":[0,382]}}}},
{"data":{"values":[{"x":0,"y":0,"r":0.678},{"x":0,"y":0,"r":0.647},{"x":0,"y":0,"r":0.61},{"x":0,"y":0,"r":0.573},{"x":0,"y":0,"r":0.533},{"x":0,"y":0,"r":0.416},{"x":0,"y":0,"r":0.283},{"x":0,"y":0,"r":0.149}]},"mark":{"type":"arc","theta":1.5708,"theta2":4.7124,"fill":"#b16e58","stroke":"#1f1f1f","strokeWidth":2},"encoding":{"x":{"field":"x","type":"quantitative","scale":{"domain":[-1.805,2.559],"padding":0},"axis":null},"y":{"field":"y","type":"quantitative","scale":{"domain":[-1.356,1.092]},"axis":null},"radius":{"field":"r","type":"quantitative","stack":null,"scale":{"type":"linear","domain":[0,1],"range":[0,382]}}}},
{"data":{"values":[{"x":0,"y":0,"r":0.181},{"x":0,"y":0,"r":0.147},{"x":0,"y":0,"r":0.099},{"x":0,"y":0,"r":0.052}]},"mark":{"type":"arc","theta":-1.5708,"theta2":1.5708,"fill":"#b16e58","stroke":"#1f1f1f","strokeWidth":2},"encoding":{"x":{"field":"x","type":"quantitative","scale":{"domain":[-1.805,2.559],"padding":0},"axis":null},"y":{"field":"y","type":"quantitative","scale":{"domain":[-1.356,1.092]},"axis":null},"radius":{"field":"r","type":"quantitative","stack":null,"scale":{"type":"linear","domain":[0,1],"range":[0,382]}}}},
{"data":{"values":[{"x":-1,"x2":1,"y":0}]},"mark":{"type":"rule","color":"#111111","strokeWidth":2.5},"encoding":{"x":{"field":"x","type":"quantitative","scale":{"domain":[-1.805,2.559],"padding":0},"axis":null},"x2":{"field":"x2"},"y":{"field":"y","type":"quantitative","scale":{"domain":[-1.356,1.092]},"axis":null}}},
{"data":{"values":[{"x":1.274,"lo":0.17,"hi":0.594}]},"mark":{"type":"bar","width":72,"fill":"#6f89cb","stroke":"#444444","strokeWidth":6},"encoding":{"x":{"field":"x","type":"quantitative","scale":{"domain":[-1.805,2.559],"padding":0},"axis":null},"y":{"field":"lo","type":"quantitative","scale":{"domain":[-1.356,1.092]},"axis":null},"y2":{"field":"hi"}}},
{"data":{"values":[{"x":1.274,"lo":-0.607,"hi":-0.084}]},"mark":{"type":"bar","width":72,"fill":"#b16e58","stroke":"#444444","strokeWidth":6},"encoding":{"x":{"field":"x","type":"quantitative","scale":{"domain":[-1.805,2.559],"padding":0},"axis":null},"y":{"field":"lo","type":"quantitative","scale":{"domain":[-1.356,1.092]},"axis":null},"y2":{"field":"hi"}}},
{"data":{"values":[{"x":1.274,"d":-0.343}]},"mark":{"type":"tick","orient":"horizontal","size":72,"thickness":6,"color":"#444444","opacity":1},"encoding":{"x":{"field":"x","type":"quantitative","scale":{"domain":[-1.805,2.559],"padding":0},"axis":null},"y":{"field":"d","type":"quantitative","scale":{"domain":[-1.356,1.092]},"axis":null}}},
{"data":{"values":[{"x":1.965,"y":0.377,"label":"Number of Donors"},{"x":1.965,"y":0.243,"label":"in spherical region"},{"x":1.946,"y":-0.17,"label":"Number of Acceptors"},{"x":1.946,"y":-0.304,"label":"in each octant of"},{"x":1.946,"y":-0.435,"label":"spherical region"}]},"mark":{"type":"text","font":"DejaVu Sans","fontSize":40,"align":"center","baseline":"middle","color":"#111111"},"encoding":{"x":{"field":"x","type":"quantitative","scale":{"domain":[-1.805,2.559],"padding":0},"axis":null},"y":{"field":"y","type":"quantitative","scale":{"domain":[-1.356,1.092]},"axis":null},"text":{"field":"label"}}},
{"data":{"values":[{"x":0.347,"y":-1.212,"label":"("},{"x":0.493,"y":-1.212,"label":")"}]},"mark":{"type":"text","font":"Liberation Serif","fontSize":67,"align":"center","baseline":"middle","color":"#000000"},"encoding":{"x":{"field":"x","type":"quantitative","scale":{"domain":[-1.805,2.559],"padding":0},"axis":null},"y":{"field":"y","type":"quantitative","scale":{"domain":[-1.356,1.092]},"axis":null},"text":{"field":"label"}}},
{"data":{"values":[{"x":0.42,"y":-1.212,"label":"d"}]},"mark":{"type":"text","font":"Liberation Serif","fontWeight":"bold","fontSize":67,"align":"center","baseline":"middle","color":"#000000"},"encoding":{"x":{"field":"x","type":"quantitative","scale":{"domain":[-1.805,2.559],"padding":0},"axis":null},"y":{"field":"y","type":"quantitative","scale":{"domain":[-1.356,1.092]},"axis":null},"text":{"field":"label"}}}
]}
]}
]}
